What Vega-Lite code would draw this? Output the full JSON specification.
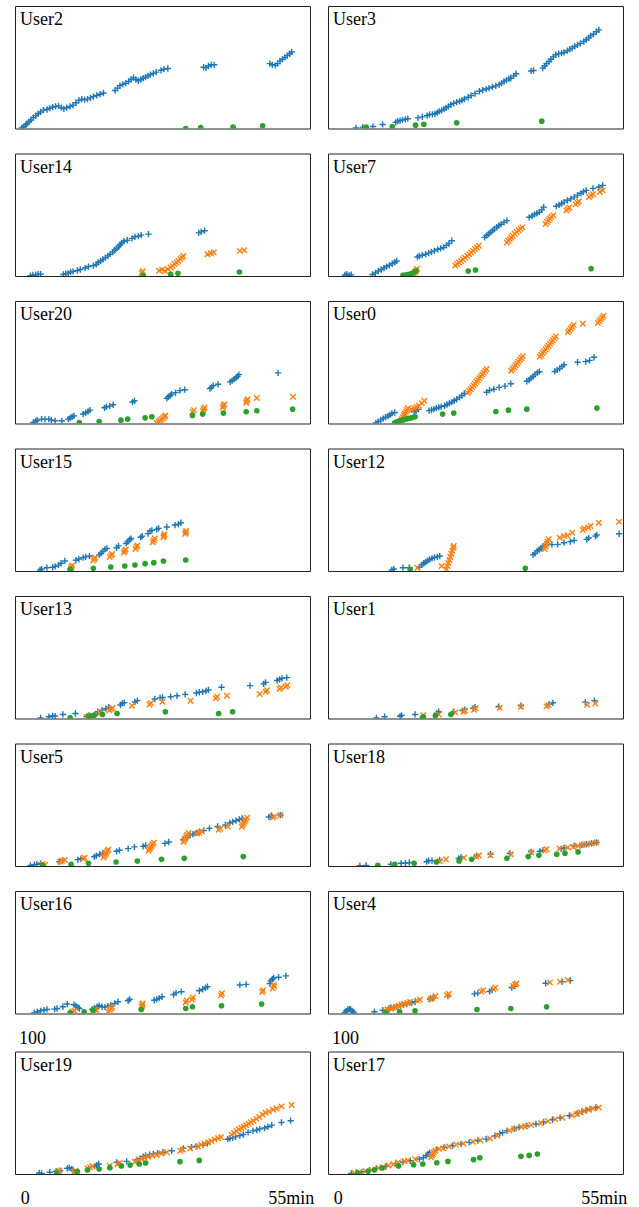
{
"$schema": "https://vega.github.io/schema/vega-lite/v6.json",
"padding": {"left": 14, "top": 5, "right": 0, "bottom": 0},
"config": {"font": "Liberation Serif", "view": {"stroke": "#222", "strokeWidth": 1}},
"data": {"name": "pts"},
"datasets": {"pts": [
{"p":"User2","s":"b","x":-0.6,"y":0.5},{"p":"User2","s":"b","x":-0.2,"y":1.5},{"p":"User2","s":"b","x":0.2,"y":3},{"p":"User2","s":"b","x":0.5,"y":4},{"p":"User2","s":"b","x":0.9,"y":5.5},{"p":"User2","s":"b","x":1.3,"y":7},{"p":"User2","s":"b","x":1.8,"y":9},{"p":"User2","s":"b","x":2.3,"y":10.5},{"p":"User2","s":"b","x":2.8,"y":12},{"p":"User2","s":"b","x":3.3,"y":13.5},{"p":"User2","s":"b","x":3.9,"y":15},{"p":"User2","s":"b","x":4.6,"y":15.5},{"p":"User2","s":"b","x":5.2,"y":16.5},{"p":"User2","s":"b","x":5.8,"y":17.5},{"p":"User2","s":"b","x":6.4,"y":18},{"p":"User2","s":"b","x":7.0,"y":18.5},{"p":"User2","s":"b","x":7.6,"y":17},{"p":"User2","s":"b","x":8.1,"y":16},{"p":"User2","s":"b","x":8.7,"y":17},{"p":"User2","s":"b","x":9.4,"y":18},{"p":"User2","s":"b","x":10.0,"y":19},{"p":"User2","s":"b","x":10.6,"y":21},{"p":"User2","s":"b","x":11.2,"y":23},{"p":"User2","s":"b","x":11.8,"y":24},{"p":"User2","s":"b","x":12.4,"y":23.5},{"p":"User2","s":"b","x":13.0,"y":24},{"p":"User2","s":"b","x":13.6,"y":25},{"p":"User2","s":"b","x":14.2,"y":26},{"p":"User2","s":"b","x":14.9,"y":27},{"p":"User2","s":"b","x":15.6,"y":28},{"p":"User2","s":"b","x":16.3,"y":29},{"p":"User2","s":"b","x":18.7,"y":31},{"p":"User2","s":"b","x":19.2,"y":33},{"p":"User2","s":"b","x":19.7,"y":35},{"p":"User2","s":"b","x":20.3,"y":36},{"p":"User2","s":"b","x":20.9,"y":37},{"p":"User2","s":"b","x":21.5,"y":38.5},{"p":"User2","s":"b","x":22.0,"y":40},{"p":"User2","s":"b","x":22.5,"y":41.5},{"p":"User2","s":"b","x":23.0,"y":40},{"p":"User2","s":"b","x":23.5,"y":39},{"p":"User2","s":"b","x":24.0,"y":40},{"p":"User2","s":"b","x":24.5,"y":41},{"p":"User2","s":"b","x":25.0,"y":42},{"p":"User2","s":"b","x":25.5,"y":43},{"p":"User2","s":"b","x":26.0,"y":44},{"p":"User2","s":"b","x":26.6,"y":45},{"p":"User2","s":"b","x":27.2,"y":46},{"p":"User2","s":"b","x":28.2,"y":47.5},{"p":"User2","s":"b","x":28.8,"y":48.5},{"p":"User2","s":"b","x":29.6,"y":49},{"p":"User2","s":"b","x":37.0,"y":50},{"p":"User2","s":"b","x":37.5,"y":49.5},{"p":"User2","s":"b","x":38.0,"y":51},{"p":"User2","s":"b","x":38.6,"y":52},{"p":"User2","s":"b","x":39.2,"y":52},{"p":"User2","s":"b","x":50.7,"y":53},{"p":"User2","s":"b","x":51.2,"y":52},{"p":"User2","s":"b","x":51.8,"y":51.5},{"p":"User2","s":"b","x":52.3,"y":53},{"p":"User2","s":"b","x":52.8,"y":55},{"p":"User2","s":"b","x":53.3,"y":56.5},{"p":"User2","s":"b","x":53.8,"y":58},{"p":"User2","s":"b","x":54.3,"y":59.5},{"p":"User2","s":"b","x":54.8,"y":61},{"p":"User2","s":"b","x":55.2,"y":62.5},
{"p":"User2","s":"g","x":33.3,"y":0},{"p":"User2","s":"g","x":36.4,"y":0.8},{"p":"User2","s":"g","x":43.1,"y":1.1},{"p":"User2","s":"g","x":49.2,"y":2.2},
{"p":"User3","s":"b","x":3.8,"y":0.5},{"p":"User3","s":"b","x":5.2,"y":1.1},{"p":"User3","s":"b","x":7.3,"y":1.6},{"p":"User3","s":"b","x":9.3,"y":3.3},{"p":"User3","s":"b","x":12.0,"y":5},{"p":"User3","s":"b","x":12.4,"y":6},{"p":"User3","s":"b","x":12.9,"y":6.5},{"p":"User3","s":"b","x":13.4,"y":7},{"p":"User3","s":"b","x":14.0,"y":7.5},{"p":"User3","s":"b","x":14.5,"y":8},{"p":"User3","s":"b","x":16.6,"y":8.7},{"p":"User3","s":"b","x":17.5,"y":9.5},{"p":"User3","s":"b","x":18.5,"y":10.5},{"p":"User3","s":"b","x":19.0,"y":11.4},{"p":"User3","s":"b","x":19.6,"y":11.5},{"p":"User3","s":"b","x":20.1,"y":12},{"p":"User3","s":"b","x":20.6,"y":13},{"p":"User3","s":"b","x":21.0,"y":14},{"p":"User3","s":"b","x":21.5,"y":14.8},{"p":"User3","s":"b","x":22.0,"y":15.8},{"p":"User3","s":"b","x":22.4,"y":16.8},{"p":"User3","s":"b","x":22.9,"y":18},{"p":"User3","s":"b","x":23.4,"y":19.5},{"p":"User3","s":"b","x":24.0,"y":20.5},{"p":"User3","s":"b","x":24.6,"y":21.5},{"p":"User3","s":"b","x":25.2,"y":22.2},{"p":"User3","s":"b","x":25.7,"y":23},{"p":"User3","s":"b","x":26.2,"y":24.1},{"p":"User3","s":"b","x":27.0,"y":25.5},{"p":"User3","s":"b","x":27.6,"y":26.8},{"p":"User3","s":"b","x":28.4,"y":28.5},{"p":"User3","s":"b","x":29.3,"y":30.4},{"p":"User3","s":"b","x":30.0,"y":31.3},{"p":"User3","s":"b","x":30.7,"y":32.2},{"p":"User3","s":"b","x":31.3,"y":33},{"p":"User3","s":"b","x":32.0,"y":33.9},{"p":"User3","s":"b","x":32.7,"y":34.8},{"p":"User3","s":"b","x":33.4,"y":35.8},{"p":"User3","s":"b","x":33.9,"y":37},{"p":"User3","s":"b","x":34.4,"y":38.5},{"p":"User3","s":"b","x":34.9,"y":39.5},{"p":"User3","s":"b","x":35.4,"y":40.5},{"p":"User3","s":"b","x":35.8,"y":41.2},{"p":"User3","s":"b","x":36.4,"y":43},{"p":"User3","s":"b","x":36.9,"y":44.7},{"p":"User3","s":"b","x":40.0,"y":47},{"p":"User3","s":"b","x":40.5,"y":47.4},{"p":"User3","s":"b","x":42.4,"y":49.3},{"p":"User3","s":"b","x":42.8,"y":51},{"p":"User3","s":"b","x":43.2,"y":53},{"p":"User3","s":"b","x":43.7,"y":54.7},{"p":"User3","s":"b","x":44.1,"y":56.5},{"p":"User3","s":"b","x":44.6,"y":58.5},{"p":"User3","s":"b","x":45.1,"y":60.2},{"p":"User3","s":"b","x":45.7,"y":61},{"p":"User3","s":"b","x":46.3,"y":61.5},{"p":"User3","s":"b","x":46.8,"y":62.1},{"p":"User3","s":"b","x":47.5,"y":63.5},{"p":"User3","s":"b","x":48.0,"y":64.8},{"p":"User3","s":"b","x":48.5,"y":65.6},{"p":"User3","s":"b","x":49.0,"y":67},{"p":"User3","s":"b","x":49.6,"y":68.3},{"p":"User3","s":"b","x":50.2,"y":69.5},{"p":"User3","s":"b","x":50.9,"y":71},{"p":"User3","s":"b","x":51.4,"y":72.5},{"p":"User3","s":"b","x":51.9,"y":74},{"p":"User3","s":"b","x":52.3,"y":75.6},{"p":"User3","s":"b","x":52.9,"y":77},{"p":"User3","s":"b","x":53.5,"y":79},{"p":"User3","s":"b","x":54.0,"y":80.5},
{"p":"User3","s":"g","x":5.9,"y":1.1},{"p":"User3","s":"g","x":11.3,"y":1.6},{"p":"User3","s":"g","x":16.1,"y":2.7},{"p":"User3","s":"g","x":17.8,"y":3.5},{"p":"User3","s":"g","x":24.6,"y":4.6},{"p":"User3","s":"g","x":42.2,"y":6},
{"p":"User14","s":"b","x":1.2,"y":0.3},{"p":"User14","s":"b","x":1.7,"y":0.8},{"p":"User14","s":"b","x":2.3,"y":1},{"p":"User14","s":"b","x":2.8,"y":1.4},{"p":"User14","s":"b","x":3.3,"y":1.4},{"p":"User14","s":"b","x":8.0,"y":1.2},{"p":"User14","s":"b","x":8.5,"y":1.9},{"p":"User14","s":"b","x":9.0,"y":2.2},{"p":"User14","s":"b","x":9.5,"y":3.3},{"p":"User14","s":"b","x":10.0,"y":3.8},{"p":"User14","s":"b","x":10.9,"y":4.5},{"p":"User14","s":"b","x":11.5,"y":5.3},{"p":"User14","s":"b","x":12.5,"y":6.5},{"p":"User14","s":"b","x":13.2,"y":7.7},{"p":"User14","s":"b","x":14.2,"y":8.5},{"p":"User14","s":"b","x":14.8,"y":9.5},{"p":"User14","s":"b","x":15.2,"y":11},{"p":"User14","s":"b","x":15.7,"y":12.3},{"p":"User14","s":"b","x":16.2,"y":13.6},{"p":"User14","s":"b","x":16.7,"y":15},{"p":"User14","s":"b","x":17.2,"y":16.4},{"p":"User14","s":"b","x":17.7,"y":17.8},{"p":"User14","s":"b","x":18.2,"y":19.5},{"p":"User14","s":"b","x":18.6,"y":21},{"p":"User14","s":"b","x":19.0,"y":22.5},{"p":"User14","s":"b","x":19.4,"y":24},{"p":"User14","s":"b","x":19.7,"y":25.5},{"p":"User14","s":"b","x":20.1,"y":27},{"p":"User14","s":"b","x":20.5,"y":28.4},{"p":"User14","s":"b","x":21.2,"y":29.2},{"p":"User14","s":"b","x":22.2,"y":30.7},{"p":"User14","s":"b","x":22.8,"y":32},{"p":"User14","s":"b","x":23.5,"y":32.5},{"p":"User14","s":"b","x":24.1,"y":33.4},{"p":"User14","s":"b","x":25.6,"y":34.2},{"p":"User14","s":"b","x":36.0,"y":35.2},{"p":"User14","s":"b","x":36.5,"y":36},{"p":"User14","s":"b","x":37.2,"y":37},
{"p":"User14","s":"o","x":24.2,"y":2.5},{"p":"User14","s":"o","x":24.4,"y":3.8},{"p":"User14","s":"o","x":27.8,"y":4.2},{"p":"User14","s":"o","x":28.4,"y":5.2},{"p":"User14","s":"o","x":29.0,"y":4.1},{"p":"User14","s":"o","x":29.6,"y":5.5},{"p":"User14","s":"o","x":30.2,"y":7},{"p":"User14","s":"o","x":30.6,"y":8.2},{"p":"User14","s":"o","x":31.0,"y":9.8},{"p":"User14","s":"o","x":31.4,"y":11},{"p":"User14","s":"o","x":31.8,"y":12.2},{"p":"User14","s":"o","x":32.2,"y":13.7},{"p":"User14","s":"o","x":32.5,"y":15},{"p":"User14","s":"o","x":32.8,"y":16.4},{"p":"User14","s":"o","x":37.8,"y":17.8},{"p":"User14","s":"o","x":38.5,"y":18.5},{"p":"User14","s":"o","x":39.1,"y":19.2},{"p":"User14","s":"o","x":44.5,"y":20.5},{"p":"User14","s":"o","x":45.4,"y":21.1},
{"p":"User14","s":"g","x":24.5,"y":0.5},{"p":"User14","s":"g","x":30.2,"y":1.4},{"p":"User14","s":"g","x":31.7,"y":2.2},{"p":"User14","s":"g","x":44.4,"y":3.3},
{"p":"User7","s":"b","x":1.5,"y":0.8},{"p":"User7","s":"b","x":1.9,"y":1.6},{"p":"User7","s":"b","x":2.4,"y":0.5},{"p":"User7","s":"b","x":2.8,"y":1.1},{"p":"User7","s":"b","x":7.2,"y":1.2},{"p":"User7","s":"b","x":7.8,"y":2.5},{"p":"User7","s":"b","x":8.4,"y":4.1},{"p":"User7","s":"b","x":9.0,"y":5.3},{"p":"User7","s":"b","x":9.6,"y":6.5},{"p":"User7","s":"b","x":10.1,"y":7.7},{"p":"User7","s":"b","x":10.7,"y":8.8},{"p":"User7","s":"b","x":11.3,"y":10},{"p":"User7","s":"b","x":11.8,"y":11.2},{"p":"User7","s":"b","x":12.2,"y":12.3},{"p":"User7","s":"b","x":16.5,"y":15.5},{"p":"User7","s":"b","x":16.9,"y":16.4},{"p":"User7","s":"b","x":17.5,"y":17},{"p":"User7","s":"b","x":18.2,"y":17.8},{"p":"User7","s":"b","x":18.8,"y":18.7},{"p":"User7","s":"b","x":19.4,"y":19.7},{"p":"User7","s":"b","x":20.0,"y":20.5},{"p":"User7","s":"b","x":20.7,"y":21.8},{"p":"User7","s":"b","x":21.3,"y":22.5},{"p":"User7","s":"b","x":21.9,"y":23.3},{"p":"User7","s":"b","x":22.5,"y":25},{"p":"User7","s":"b","x":23.0,"y":26.5},{"p":"User7","s":"b","x":23.6,"y":28.8},{"p":"User7","s":"b","x":30.4,"y":31.5},{"p":"User7","s":"b","x":30.8,"y":33},{"p":"User7","s":"b","x":31.2,"y":34.3},{"p":"User7","s":"b","x":31.6,"y":35.6},{"p":"User7","s":"b","x":32.0,"y":37},{"p":"User7","s":"b","x":32.4,"y":38.3},{"p":"User7","s":"b","x":32.9,"y":39.8},{"p":"User7","s":"b","x":33.3,"y":41.1},{"p":"User7","s":"b","x":33.8,"y":42.3},{"p":"User7","s":"b","x":34.4,"y":43.8},{"p":"User7","s":"b","x":35.0,"y":45.2},{"p":"User7","s":"b","x":39.6,"y":47.9},{"p":"User7","s":"b","x":40.2,"y":49},{"p":"User7","s":"b","x":40.7,"y":50.2},{"p":"User7","s":"b","x":41.2,"y":51.2},{"p":"User7","s":"b","x":41.7,"y":52.1},{"p":"User7","s":"b","x":42.2,"y":54},{"p":"User7","s":"b","x":42.6,"y":56.2},{"p":"User7","s":"b","x":45.2,"y":57},{"p":"User7","s":"b","x":45.8,"y":58},{"p":"User7","s":"b","x":46.3,"y":59.2},{"p":"User7","s":"b","x":46.8,"y":60.3},{"p":"User7","s":"b","x":47.5,"y":61.8},{"p":"User7","s":"b","x":48.2,"y":63},{"p":"User7","s":"b","x":48.9,"y":64.4},{"p":"User7","s":"b","x":49.6,"y":66},{"p":"User7","s":"b","x":50.3,"y":67.5},{"p":"User7","s":"b","x":50.8,"y":68.8},{"p":"User7","s":"b","x":51.4,"y":69.9},{"p":"User7","s":"b","x":52.8,"y":71.5},{"p":"User7","s":"b","x":54.0,"y":72.6},{"p":"User7","s":"b","x":54.8,"y":74},
{"p":"User7","s":"o","x":15.8,"y":1.5},{"p":"User7","s":"o","x":16.0,"y":3},{"p":"User7","s":"o","x":16.2,"y":4.5},{"p":"User7","s":"o","x":16.4,"y":6},{"p":"User7","s":"o","x":24.3,"y":8.5},{"p":"User7","s":"o","x":24.7,"y":9.8},{"p":"User7","s":"o","x":25.1,"y":11},{"p":"User7","s":"o","x":25.5,"y":12.3},{"p":"User7","s":"o","x":25.9,"y":13.6},{"p":"User7","s":"o","x":26.3,"y":15},{"p":"User7","s":"o","x":26.8,"y":16.4},{"p":"User7","s":"o","x":27.2,"y":17.8},{"p":"User7","s":"o","x":27.6,"y":19.2},{"p":"User7","s":"o","x":28.0,"y":20.5},{"p":"User7","s":"o","x":28.4,"y":22},{"p":"User7","s":"o","x":28.8,"y":23.3},{"p":"User7","s":"o","x":29.2,"y":24.7},{"p":"User7","s":"o","x":35.0,"y":27.4},{"p":"User7","s":"o","x":35.3,"y":28.8},{"p":"User7","s":"o","x":35.6,"y":30.1},{"p":"User7","s":"o","x":35.9,"y":31.5},{"p":"User7","s":"o","x":36.2,"y":32.9},{"p":"User7","s":"o","x":36.6,"y":34.5},{"p":"User7","s":"o","x":37.0,"y":36},{"p":"User7","s":"o","x":37.4,"y":37.3},{"p":"User7","s":"o","x":37.8,"y":38.5},{"p":"User7","s":"o","x":38.2,"y":39.7},{"p":"User7","s":"o","x":43.0,"y":42.5},{"p":"User7","s":"o","x":43.3,"y":44},{"p":"User7","s":"o","x":43.6,"y":45.5},{"p":"User7","s":"o","x":43.9,"y":47},{"p":"User7","s":"o","x":44.2,"y":48.3},{"p":"User7","s":"o","x":44.6,"y":49.5},{"p":"User7","s":"o","x":47.3,"y":53.5},{"p":"User7","s":"o","x":47.6,"y":54.8},{"p":"User7","s":"o","x":47.9,"y":56},{"p":"User7","s":"o","x":49.2,"y":58.5},{"p":"User7","s":"o","x":49.6,"y":59.8},{"p":"User7","s":"o","x":49.9,"y":61},{"p":"User7","s":"o","x":52.0,"y":64.5},{"p":"User7","s":"o","x":52.4,"y":65.8},{"p":"User7","s":"o","x":52.8,"y":66.8},{"p":"User7","s":"o","x":54.2,"y":68.5},{"p":"User7","s":"o","x":54.8,"y":69.9},
{"p":"User7","s":"g","x":13.5,"y":0.5},{"p":"User7","s":"g","x":14.0,"y":0.8},{"p":"User7","s":"g","x":14.5,"y":1.2},{"p":"User7","s":"g","x":15.0,"y":1.6},{"p":"User7","s":"g","x":15.4,"y":2.2},{"p":"User7","s":"g","x":15.8,"y":3},{"p":"User7","s":"g","x":16.2,"y":4.1},{"p":"User7","s":"g","x":27.0,"y":4.1},{"p":"User7","s":"g","x":28.5,"y":4.9},{"p":"User7","s":"g","x":52.4,"y":6.0},
{"p":"User20","s":"b","x":1.8,"y":0.8},{"p":"User20","s":"b","x":2.3,"y":2},{"p":"User20","s":"b","x":2.6,"y":2.7},{"p":"User20","s":"b","x":3.5,"y":3.6},{"p":"User20","s":"b","x":4.2,"y":3.4},{"p":"User20","s":"b","x":5.0,"y":3.6},{"p":"User20","s":"b","x":5.5,"y":3},{"p":"User20","s":"b","x":6.3,"y":2.2},{"p":"User20","s":"b","x":7.7,"y":2.2},{"p":"User20","s":"b","x":9.0,"y":3.6},{"p":"User20","s":"b","x":9.4,"y":4.5},{"p":"User20","s":"b","x":9.8,"y":5.5},{"p":"User20","s":"b","x":10.2,"y":6.2},{"p":"User20","s":"b","x":12.1,"y":7.7},{"p":"User20","s":"b","x":12.6,"y":8.8},{"p":"User20","s":"b","x":13.1,"y":9.8},{"p":"User20","s":"b","x":13.5,"y":10.9},{"p":"User20","s":"b","x":16.5,"y":12.8},{"p":"User20","s":"b","x":16.9,"y":13.7},{"p":"User20","s":"b","x":17.6,"y":14.2},{"p":"User20","s":"b","x":18.3,"y":15.3},{"p":"User20","s":"b","x":22.3,"y":17.5},{"p":"User20","s":"b","x":22.7,"y":18.6},{"p":"User20","s":"b","x":29.4,"y":20.5},{"p":"User20","s":"b","x":29.7,"y":21.8},{"p":"User20","s":"b","x":30.1,"y":23},{"p":"User20","s":"b","x":30.4,"y":24},{"p":"User20","s":"b","x":31.2,"y":25.2},{"p":"User20","s":"b","x":32.1,"y":26.8},{"p":"User20","s":"b","x":33.1,"y":27.6},{"p":"User20","s":"b","x":38.3,"y":28.5},{"p":"User20","s":"b","x":38.6,"y":29.5},{"p":"User20","s":"b","x":39.0,"y":30.9},{"p":"User20","s":"b","x":40.0,"y":32},{"p":"User20","s":"b","x":42.5,"y":34},{"p":"User20","s":"b","x":42.9,"y":35},{"p":"User20","s":"b","x":43.3,"y":36.2},{"p":"User20","s":"b","x":43.7,"y":37.2},{"p":"User20","s":"b","x":44.0,"y":38.5},{"p":"User20","s":"b","x":44.3,"y":39.9},{"p":"User20","s":"b","x":52.4,"y":41.3},
{"p":"User20","s":"o","x":27.3,"y":0.5},{"p":"User20","s":"o","x":27.7,"y":1.5},{"p":"User20","s":"o","x":28.0,"y":2.5},{"p":"User20","s":"o","x":28.3,"y":3.5},{"p":"User20","s":"o","x":28.6,"y":4.5},{"p":"User20","s":"o","x":28.9,"y":5.5},{"p":"User20","s":"o","x":29.1,"y":6.5},{"p":"User20","s":"o","x":34.7,"y":9.5},{"p":"User20","s":"o","x":35.0,"y":10.8},{"p":"User20","s":"o","x":36.9,"y":10},{"p":"User20","s":"o","x":37.0,"y":11.7},{"p":"User20","s":"o","x":37.2,"y":13},{"p":"User20","s":"o","x":41.0,"y":13},{"p":"User20","s":"o","x":41.1,"y":14.5},{"p":"User20","s":"o","x":41.3,"y":15.8},{"p":"User20","s":"o","x":45.8,"y":17},{"p":"User20","s":"o","x":45.9,"y":18.6},{"p":"User20","s":"o","x":46.1,"y":19.8},{"p":"User20","s":"o","x":48.0,"y":20.8},{"p":"User20","s":"o","x":55.5,"y":21.9},
{"p":"User20","s":"g","x":11.3,"y":0.8},{"p":"User20","s":"g","x":15.4,"y":1.6},{"p":"User20","s":"g","x":19.9,"y":2.7},{"p":"User20","s":"g","x":21.3,"y":3.6},{"p":"User20","s":"g","x":24.9,"y":4.6},{"p":"User20","s":"g","x":26.3,"y":5.5},{"p":"User20","s":"g","x":34.7,"y":6.6},{"p":"User20","s":"g","x":36.8,"y":7.7},{"p":"User20","s":"g","x":41.1,"y":8.5},{"p":"User20","s":"g","x":45.8,"y":9.6},{"p":"User20","s":"g","x":48.0,"y":10.4},{"p":"User20","s":"g","x":55.4,"y":11.7},
{"p":"User0","s":"b","x":7.9,"y":0.5},{"p":"User0","s":"b","x":8.4,"y":1.5},{"p":"User0","s":"b","x":8.9,"y":3},{"p":"User0","s":"b","x":9.4,"y":4},{"p":"User0","s":"b","x":9.9,"y":5.2},{"p":"User0","s":"b","x":10.4,"y":6},{"p":"User0","s":"b","x":10.8,"y":7},{"p":"User0","s":"b","x":11.2,"y":8.2},{"p":"User0","s":"b","x":11.8,"y":9},{"p":"User0","s":"b","x":15.8,"y":9.6},{"p":"User0","s":"b","x":16.2,"y":10.4},{"p":"User0","s":"b","x":16.7,"y":11.5},{"p":"User0","s":"b","x":18.9,"y":10.5},{"p":"User0","s":"b","x":19.4,"y":11},{"p":"User0","s":"b","x":19.9,"y":11.7},{"p":"User0","s":"b","x":20.4,"y":12.5},{"p":"User0","s":"b","x":20.9,"y":13.1},{"p":"User0","s":"b","x":21.4,"y":13.8},{"p":"User0","s":"b","x":22.1,"y":14.5},{"p":"User0","s":"b","x":22.6,"y":15.5},{"p":"User0","s":"b","x":23.1,"y":16.4},{"p":"User0","s":"b","x":23.6,"y":17.5},{"p":"User0","s":"b","x":24.1,"y":18.6},{"p":"User0","s":"b","x":24.6,"y":19.8},{"p":"User0","s":"b","x":25.2,"y":21.3},{"p":"User0","s":"b","x":25.7,"y":22.8},{"p":"User0","s":"b","x":26.2,"y":24.5},{"p":"User0","s":"b","x":30.8,"y":25.5},{"p":"User0","s":"b","x":31.4,"y":27},{"p":"User0","s":"b","x":32.3,"y":28},{"p":"User0","s":"b","x":33.4,"y":29.5},{"p":"User0","s":"b","x":34.6,"y":30.5},{"p":"User0","s":"b","x":35.8,"y":32.5},{"p":"User0","s":"b","x":39.1,"y":34.5},{"p":"User0","s":"b","x":39.6,"y":35.5},{"p":"User0","s":"b","x":40.0,"y":37},{"p":"User0","s":"b","x":40.4,"y":38.5},{"p":"User0","s":"b","x":40.8,"y":40},{"p":"User0","s":"b","x":41.3,"y":41.5},{"p":"User0","s":"b","x":41.7,"y":42.3},{"p":"User0","s":"b","x":44.9,"y":42.5},{"p":"User0","s":"b","x":45.4,"y":43.8},{"p":"User0","s":"b","x":45.9,"y":45},{"p":"User0","s":"b","x":46.4,"y":46.5},{"p":"User0","s":"b","x":46.8,"y":48},{"p":"User0","s":"b","x":49.6,"y":50},{"p":"User0","s":"b","x":51.3,"y":50.5},{"p":"User0","s":"b","x":52.1,"y":51.5},{"p":"User0","s":"b","x":53.0,"y":54.1},
{"p":"User0","s":"o","x":12.9,"y":0.5},{"p":"User0","s":"o","x":13.1,"y":2},{"p":"User0","s":"o","x":13.3,"y":3.5},{"p":"User0","s":"o","x":13.5,"y":5},{"p":"User0","s":"o","x":13.7,"y":6.5},{"p":"User0","s":"o","x":13.9,"y":8},{"p":"User0","s":"o","x":14.1,"y":9.5},{"p":"User0","s":"o","x":14.3,"y":11},{"p":"User0","s":"o","x":14.5,"y":12.5},{"p":"User0","s":"o","x":15.3,"y":11.5},{"p":"User0","s":"o","x":15.8,"y":12.5},{"p":"User0","s":"o","x":16.3,"y":13.5},{"p":"User0","s":"o","x":16.8,"y":14.5},{"p":"User0","s":"o","x":17.4,"y":16.5},{"p":"User0","s":"o","x":17.9,"y":18.5},{"p":"User0","s":"o","x":26.9,"y":25},{"p":"User0","s":"o","x":27.2,"y":26.5},{"p":"User0","s":"o","x":27.5,"y":28},{"p":"User0","s":"o","x":27.8,"y":29.5},{"p":"User0","s":"o","x":28.1,"y":31},{"p":"User0","s":"o","x":28.4,"y":32.5},{"p":"User0","s":"o","x":28.7,"y":34},{"p":"User0","s":"o","x":29.0,"y":35.5},{"p":"User0","s":"o","x":29.3,"y":37},{"p":"User0","s":"o","x":29.6,"y":38.5},{"p":"User0","s":"o","x":29.9,"y":40},{"p":"User0","s":"o","x":30.2,"y":41.5},{"p":"User0","s":"o","x":30.5,"y":43},{"p":"User0","s":"o","x":30.8,"y":44.5},{"p":"User0","s":"o","x":35.9,"y":43},{"p":"User0","s":"o","x":36.2,"y":44.5},{"p":"User0","s":"o","x":36.5,"y":46},{"p":"User0","s":"o","x":36.8,"y":47.5},{"p":"User0","s":"o","x":37.1,"y":49},{"p":"User0","s":"o","x":37.4,"y":50.5},{"p":"User0","s":"o","x":37.7,"y":52},{"p":"User0","s":"o","x":38.0,"y":53.5},{"p":"User0","s":"o","x":38.3,"y":55},{"p":"User0","s":"o","x":41.8,"y":54.5},{"p":"User0","s":"o","x":42.1,"y":56},{"p":"User0","s":"o","x":42.4,"y":57.5},{"p":"User0","s":"o","x":42.7,"y":59},{"p":"User0","s":"o","x":43.0,"y":60.5},{"p":"User0","s":"o","x":43.3,"y":62},{"p":"User0","s":"o","x":43.6,"y":63.5},{"p":"User0","s":"o","x":43.9,"y":65},{"p":"User0","s":"o","x":44.2,"y":66.5},{"p":"User0","s":"o","x":44.5,"y":68},{"p":"User0","s":"o","x":44.8,"y":69.5},{"p":"User0","s":"o","x":45.1,"y":71},{"p":"User0","s":"o","x":47.6,"y":74.5},{"p":"User0","s":"o","x":47.9,"y":76},{"p":"User0","s":"o","x":48.2,"y":77.5},{"p":"User0","s":"o","x":48.5,"y":79},{"p":"User0","s":"o","x":48.8,"y":80.5},{"p":"User0","s":"o","x":50.7,"y":81.5},{"p":"User0","s":"o","x":53.8,"y":82},{"p":"User0","s":"o","x":54.1,"y":83.5},{"p":"User0","s":"o","x":54.4,"y":85},{"p":"User0","s":"o","x":54.7,"y":86.5},{"p":"User0","s":"o","x":55.0,"y":88},
{"p":"User0","s":"g","x":11.8,"y":0.5},{"p":"User0","s":"g","x":12.2,"y":1.2},{"p":"User0","s":"g","x":12.6,"y":1.8},{"p":"User0","s":"g","x":13.0,"y":2.3},{"p":"User0","s":"g","x":13.4,"y":2.8},{"p":"User0","s":"g","x":13.8,"y":3.3},{"p":"User0","s":"g","x":14.3,"y":3.8},{"p":"User0","s":"g","x":14.8,"y":4.3},{"p":"User0","s":"g","x":15.4,"y":4.8},{"p":"User0","s":"g","x":16.0,"y":5.5},{"p":"User0","s":"g","x":21.7,"y":7.7},{"p":"User0","s":"g","x":24.0,"y":8.5},{"p":"User0","s":"g","x":32.7,"y":9.8},{"p":"User0","s":"g","x":35.3,"y":10.9},{"p":"User0","s":"g","x":39.1,"y":11.7},{"p":"User0","s":"g","x":53.6,"y":12.6},
{"p":"User15","s":"b","x":3.2,"y":0.8},{"p":"User15","s":"b","x":3.5,"y":1.6},{"p":"User15","s":"b","x":4.6,"y":2.7},{"p":"User15","s":"b","x":5.8,"y":3},{"p":"User15","s":"b","x":6.3,"y":3.8},{"p":"User15","s":"b","x":7.0,"y":4.8},{"p":"User15","s":"b","x":7.5,"y":6.3},{"p":"User15","s":"b","x":8.3,"y":8.2},{"p":"User15","s":"b","x":10.6,"y":8.8},{"p":"User15","s":"b","x":11.2,"y":9.8},{"p":"User15","s":"b","x":12.1,"y":10.9},{"p":"User15","s":"b","x":12.6,"y":11.5},{"p":"User15","s":"b","x":13.4,"y":12.2},{"p":"User15","s":"b","x":15.4,"y":13.2},{"p":"User15","s":"b","x":15.8,"y":14.5},{"p":"User15","s":"b","x":16.2,"y":16},{"p":"User15","s":"b","x":16.6,"y":17.7},{"p":"User15","s":"b","x":17.0,"y":18.5},{"p":"User15","s":"b","x":19.0,"y":19},{"p":"User15","s":"b","x":19.4,"y":20.5},{"p":"User15","s":"b","x":21.0,"y":22.5},{"p":"User15","s":"b","x":21.3,"y":24},{"p":"User15","s":"b","x":21.7,"y":25.5},{"p":"User15","s":"b","x":22.0,"y":26.5},{"p":"User15","s":"b","x":24.0,"y":27.5},{"p":"User15","s":"b","x":24.3,"y":28.5},{"p":"User15","s":"b","x":25.5,"y":30.5},{"p":"User15","s":"b","x":25.9,"y":32.6},{"p":"User15","s":"b","x":26.3,"y":33.2},{"p":"User15","s":"b","x":27.3,"y":34},{"p":"User15","s":"b","x":27.7,"y":34.8},{"p":"User15","s":"b","x":29.4,"y":35.9},{"p":"User15","s":"b","x":31.1,"y":37.5},{"p":"User15","s":"b","x":31.8,"y":38.3},{"p":"User15","s":"b","x":32.3,"y":39.4},
{"p":"User15","s":"o","x":9.5,"y":0.5},{"p":"User15","s":"o","x":9.6,"y":1.8},{"p":"User15","s":"o","x":9.7,"y":3.2},{"p":"User15","s":"o","x":9.8,"y":4.6},{"p":"User15","s":"o","x":14.2,"y":8.5},{"p":"User15","s":"o","x":14.4,"y":9.8},{"p":"User15","s":"o","x":14.6,"y":11},{"p":"User15","s":"o","x":17.6,"y":11.5},{"p":"User15","s":"o","x":17.9,"y":12.8},{"p":"User15","s":"o","x":18.1,"y":13.8},{"p":"User15","s":"o","x":20.5,"y":15},{"p":"User15","s":"o","x":20.7,"y":16.3},{"p":"User15","s":"o","x":20.9,"y":17.5},{"p":"User15","s":"o","x":22.9,"y":18},{"p":"User15","s":"o","x":23.1,"y":19.5},{"p":"User15","s":"o","x":23.3,"y":20.8},{"p":"User15","s":"o","x":26.5,"y":23.5},{"p":"User15","s":"o","x":26.7,"y":25},{"p":"User15","s":"o","x":26.9,"y":26.5},{"p":"User15","s":"o","x":28.7,"y":27.5},{"p":"User15","s":"o","x":28.8,"y":28.8},{"p":"User15","s":"o","x":28.9,"y":30},{"p":"User15","s":"o","x":33.2,"y":30.3},{"p":"User15","s":"o","x":33.3,"y":31.5},{"p":"User15","s":"o","x":33.4,"y":32.7},
{"p":"User15","s":"g","x":9.4,"y":1.4},{"p":"User15","s":"g","x":14.2,"y":2.2},{"p":"User15","s":"g","x":17.8,"y":3.3},{"p":"User15","s":"g","x":20.7,"y":4.1},{"p":"User15","s":"g","x":22.8,"y":4.9},{"p":"User15","s":"g","x":24.9,"y":6},{"p":"User15","s":"g","x":26.7,"y":6.8},{"p":"User15","s":"g","x":28.7,"y":8.2},{"p":"User15","s":"g","x":33.3,"y":9.0},
{"p":"User12","s":"b","x":11.2,"y":0.8},{"p":"User12","s":"b","x":11.6,"y":1.6},{"p":"User12","s":"b","x":13.5,"y":2.7},{"p":"User12","s":"b","x":14.8,"y":2.7},{"p":"User12","s":"b","x":16.9,"y":3.3},{"p":"User12","s":"b","x":17.4,"y":5},{"p":"User12","s":"b","x":17.8,"y":6.3},{"p":"User12","s":"b","x":18.2,"y":7.3},{"p":"User12","s":"b","x":18.6,"y":8.4},{"p":"User12","s":"b","x":19.0,"y":9.5},{"p":"User12","s":"b","x":19.5,"y":10.3},{"p":"User12","s":"b","x":20.0,"y":11},{"p":"User12","s":"b","x":20.6,"y":11.6},{"p":"User12","s":"b","x":21.1,"y":12.2},{"p":"User12","s":"b","x":40.4,"y":13.2},{"p":"User12","s":"b","x":40.8,"y":14.5},{"p":"User12","s":"b","x":41.3,"y":16.3},{"p":"User12","s":"b","x":41.7,"y":17.5},{"p":"User12","s":"b","x":42.1,"y":18.8},{"p":"User12","s":"b","x":42.5,"y":20.2},{"p":"User12","s":"b","x":43.0,"y":21.7},{"p":"User12","s":"b","x":44.3,"y":21.5},{"p":"User12","s":"b","x":45.5,"y":21.7},{"p":"User12","s":"b","x":46.8,"y":23.1},{"p":"User12","s":"b","x":48.1,"y":24},{"p":"User12","s":"b","x":48.9,"y":25},{"p":"User12","s":"b","x":51.5,"y":25.8},{"p":"User12","s":"b","x":51.9,"y":27},{"p":"User12","s":"b","x":53.3,"y":28.5},{"p":"User12","s":"b","x":53.6,"y":29.5},{"p":"User12","s":"b","x":58.2,"y":30.4},
{"p":"User12","s":"o","x":16.5,"y":2.7},{"p":"User12","s":"o","x":21.5,"y":4.1},{"p":"User12","s":"o","x":22.5,"y":1.5},{"p":"User12","s":"o","x":22.7,"y":4},{"p":"User12","s":"o","x":22.9,"y":6.5},{"p":"User12","s":"o","x":23.1,"y":9},{"p":"User12","s":"o","x":23.3,"y":11.5},{"p":"User12","s":"o","x":23.5,"y":14},{"p":"User12","s":"o","x":23.7,"y":16.5},{"p":"User12","s":"o","x":23.9,"y":19},{"p":"User12","s":"o","x":24.0,"y":20.5},{"p":"User12","s":"o","x":42.8,"y":18},{"p":"User12","s":"o","x":43.0,"y":20},{"p":"User12","s":"o","x":43.2,"y":22},{"p":"User12","s":"o","x":43.4,"y":24},{"p":"User12","s":"o","x":43.6,"y":26},{"p":"User12","s":"o","x":45.9,"y":27.2},{"p":"User12","s":"o","x":46.8,"y":28.5},{"p":"User12","s":"o","x":47.5,"y":29},{"p":"User12","s":"o","x":48.5,"y":31.3},{"p":"User12","s":"o","x":50.7,"y":33.5},{"p":"User12","s":"o","x":51.0,"y":34.8},{"p":"User12","s":"o","x":51.8,"y":35.5},{"p":"User12","s":"o","x":52.3,"y":36.7},{"p":"User12","s":"o","x":54.0,"y":39.4},{"p":"User12","s":"o","x":58.2,"y":40.2},
{"p":"User12","s":"g","x":15.0,"y":1.4},{"p":"User12","s":"g","x":38.8,"y":2.2},
{"p":"User13","s":"b","x":3.3,"y":0.5},{"p":"User13","s":"b","x":5.0,"y":1.4},{"p":"User13","s":"b","x":5.8,"y":2.2},{"p":"User13","s":"b","x":6.3,"y":2},{"p":"User13","s":"b","x":7.9,"y":3.3},{"p":"User13","s":"b","x":10.5,"y":4.1},{"p":"User13","s":"b","x":12.8,"y":1.5},{"p":"User13","s":"b","x":13.3,"y":2.5},{"p":"User13","s":"b","x":15.1,"y":5.5},{"p":"User13","s":"b","x":16.0,"y":6.8},{"p":"User13","s":"b","x":16.8,"y":8},{"p":"User13","s":"b","x":17.4,"y":9.2},{"p":"User13","s":"b","x":19.8,"y":11},{"p":"User13","s":"b","x":20.2,"y":12.3},{"p":"User13","s":"b","x":20.6,"y":13},{"p":"User13","s":"b","x":22.8,"y":13.5},{"p":"User13","s":"b","x":23.3,"y":14.6},{"p":"User13","s":"b","x":26.9,"y":15.9},{"p":"User13","s":"b","x":28.0,"y":16.8},{"p":"User13","s":"b","x":28.5,"y":17.2},{"p":"User13","s":"b","x":30.2,"y":17.8},{"p":"User13","s":"b","x":31.5,"y":18.6},{"p":"User13","s":"b","x":33.2,"y":19.7},{"p":"User13","s":"b","x":35.5,"y":20.8},{"p":"User13","s":"b","x":36.1,"y":21.4},{"p":"User13","s":"b","x":36.8,"y":21.8},{"p":"User13","s":"b","x":37.5,"y":22.5},{"p":"User13","s":"b","x":38.0,"y":23.3},{"p":"User13","s":"b","x":40.7,"y":25.5},{"p":"User13","s":"b","x":46.6,"y":26.8},{"p":"User13","s":"b","x":49.4,"y":28.3},{"p":"User13","s":"b","x":49.8,"y":29.5},{"p":"User13","s":"b","x":52.2,"y":31},{"p":"User13","s":"b","x":52.7,"y":32},{"p":"User13","s":"b","x":53.2,"y":32.8},{"p":"User13","s":"b","x":54.2,"y":33.4},
{"p":"User13","s":"o","x":12.8,"y":1.2},{"p":"User13","s":"o","x":13.4,"y":2},{"p":"User13","s":"o","x":13.8,"y":2.7},{"p":"User13","s":"o","x":15.5,"y":4.2},{"p":"User13","s":"o","x":15.9,"y":5.2},{"p":"User13","s":"o","x":17.5,"y":6.8},{"p":"User13","s":"o","x":17.9,"y":7.7},{"p":"User13","s":"o","x":18.2,"y":8.5},{"p":"User13","s":"o","x":22.2,"y":10.4},{"p":"User13","s":"o","x":25.8,"y":11.5},{"p":"User13","s":"o","x":26.1,"y":12.6},{"p":"User13","s":"o","x":28.5,"y":13.7},{"p":"User13","s":"o","x":34.3,"y":14.5},{"p":"User13","s":"o","x":39.5,"y":16.5},{"p":"User13","s":"o","x":39.8,"y":17.8},{"p":"User13","s":"o","x":41.8,"y":18.6},{"p":"User13","s":"o","x":48.6,"y":20},{"p":"User13","s":"o","x":49.8,"y":21.8},{"p":"User13","s":"o","x":50.1,"y":23},{"p":"User13","s":"o","x":52.7,"y":24},{"p":"User13","s":"o","x":53.0,"y":25.2},{"p":"User13","s":"o","x":54.0,"y":26},{"p":"User13","s":"o","x":54.3,"y":27.2},
{"p":"User13","s":"g","x":9.4,"y":0.5},{"p":"User13","s":"g","x":13.2,"y":1.4},{"p":"User13","s":"g","x":13.8,"y":2.2},{"p":"User13","s":"g","x":14.4,"y":2.7},{"p":"User13","s":"g","x":16.1,"y":3.3},{"p":"User13","s":"g","x":19.1,"y":4.1},{"p":"User13","s":"g","x":29.1,"y":5.5},{"p":"User13","s":"g","x":40.1,"y":4.1},{"p":"User13","s":"g","x":43.0,"y":5.5},
{"p":"User1","s":"b","x":8.0,"y":0.5},{"p":"User1","s":"b","x":9.7,"y":1.4},{"p":"User1","s":"b","x":12.9,"y":1.8},{"p":"User1","s":"b","x":13.2,"y":2.6},{"p":"User1","s":"b","x":16.0,"y":3.3},{"p":"User1","s":"b","x":20.5,"y":4.3},{"p":"User1","s":"b","x":20.9,"y":5.5},{"p":"User1","s":"b","x":24.0,"y":5.5},{"p":"User1","s":"b","x":25.8,"y":6.5},{"p":"User1","s":"b","x":26.3,"y":7.3},{"p":"User1","s":"b","x":28.0,"y":8.3},{"p":"User1","s":"b","x":28.4,"y":9.3},{"p":"User1","s":"b","x":33.3,"y":9.6},{"p":"User1","s":"b","x":37.9,"y":10.4},{"p":"User1","s":"b","x":43.7,"y":11.8},{"p":"User1","s":"b","x":44.5,"y":12.8},{"p":"User1","s":"b","x":51.2,"y":13.4},{"p":"User1","s":"b","x":53.1,"y":14.5},
{"p":"User1","s":"o","x":17.7,"y":2.7},{"p":"User1","s":"o","x":20.9,"y":3.3},{"p":"User1","s":"o","x":24.3,"y":4.9},{"p":"User1","s":"o","x":26.0,"y":5.5},{"p":"User1","s":"o","x":26.3,"y":6.6},{"p":"User1","s":"o","x":28.2,"y":7.2},{"p":"User1","s":"o","x":28.5,"y":8.4},{"p":"User1","s":"o","x":33.5,"y":8.8},{"p":"User1","s":"o","x":37.9,"y":9.6},{"p":"User1","s":"o","x":43.2,"y":9.9},{"p":"User1","s":"o","x":43.6,"y":11},{"p":"User1","s":"o","x":51.6,"y":11.2},{"p":"User1","s":"o","x":53.3,"y":12.3},
{"p":"User1","s":"g","x":17.5,"y":0.5},{"p":"User1","s":"g","x":17.7,"y":1.4},{"p":"User1","s":"g","x":20.2,"y":2.2},{"p":"User1","s":"g","x":23.4,"y":3.3},
{"p":"User5","s":"b","x":1.2,"y":0.5},{"p":"User5","s":"b","x":2.0,"y":1},{"p":"User5","s":"b","x":2.5,"y":1.4},{"p":"User5","s":"b","x":3.3,"y":2.2},{"p":"User5","s":"b","x":7.2,"y":3.5},{"p":"User5","s":"b","x":7.8,"y":4.5},{"p":"User5","s":"b","x":11.0,"y":5.2},{"p":"User5","s":"b","x":11.6,"y":6},{"p":"User5","s":"b","x":14.4,"y":7.5},{"p":"User5","s":"b","x":14.8,"y":8.5},{"p":"User5","s":"b","x":15.5,"y":9.5},{"p":"User5","s":"b","x":16.2,"y":10.6},{"p":"User5","s":"b","x":19.0,"y":12},{"p":"User5","s":"b","x":19.6,"y":12.8},{"p":"User5","s":"b","x":21.4,"y":14.2},{"p":"User5","s":"b","x":22.7,"y":15.6},{"p":"User5","s":"b","x":24.5,"y":16},{"p":"User5","s":"b","x":25.0,"y":16.8},{"p":"User5","s":"b","x":29.0,"y":18.5},{"p":"User5","s":"b","x":29.8,"y":19.6},{"p":"User5","s":"b","x":32.8,"y":21.4},{"p":"User5","s":"b","x":33.6,"y":23.5},{"p":"User5","s":"b","x":34.2,"y":25},{"p":"User5","s":"b","x":34.8,"y":26},{"p":"User5","s":"b","x":35.5,"y":27},{"p":"User5","s":"b","x":36.1,"y":27.9},{"p":"User5","s":"b","x":37.0,"y":29},{"p":"User5","s":"b","x":38.2,"y":30.7},{"p":"User5","s":"b","x":39.9,"y":32.3},{"p":"User5","s":"b","x":41.5,"y":33.5},{"p":"User5","s":"b","x":42.4,"y":35.1},{"p":"User5","s":"b","x":43.0,"y":36},{"p":"User5","s":"b","x":43.7,"y":37},{"p":"User5","s":"b","x":44.4,"y":38},{"p":"User5","s":"b","x":45.0,"y":38.9},{"p":"User5","s":"b","x":50.5,"y":40},{"p":"User5","s":"b","x":51.0,"y":41},{"p":"User5","s":"b","x":52.9,"y":41.6},
{"p":"User5","s":"o","x":3.7,"y":1.4},{"p":"User5","s":"o","x":4.2,"y":0.8},{"p":"User5","s":"o","x":7.3,"y":3.5},{"p":"User5","s":"o","x":7.7,"y":4.3},{"p":"User5","s":"o","x":8.3,"y":4.9},{"p":"User5","s":"o","x":12.1,"y":6},{"p":"User5","s":"o","x":12.4,"y":6.8},{"p":"User5","s":"o","x":16.3,"y":7},{"p":"User5","s":"o","x":16.5,"y":8.3},{"p":"User5","s":"o","x":16.7,"y":9.6},{"p":"User5","s":"o","x":16.9,"y":10.9},{"p":"User5","s":"o","x":17.1,"y":12.2},{"p":"User5","s":"o","x":17.3,"y":13.5},{"p":"User5","s":"o","x":25.6,"y":12.5},{"p":"User5","s":"o","x":25.8,"y":13.8},{"p":"User5","s":"o","x":26.0,"y":15.1},{"p":"User5","s":"o","x":26.2,"y":16.4},{"p":"User5","s":"o","x":26.4,"y":17.7},{"p":"User5","s":"o","x":26.7,"y":19},{"p":"User5","s":"o","x":32.8,"y":19.5},{"p":"User5","s":"o","x":33.0,"y":21},{"p":"User5","s":"o","x":33.2,"y":22.5},{"p":"User5","s":"o","x":33.4,"y":24},{"p":"User5","s":"o","x":33.6,"y":25.5},{"p":"User5","s":"o","x":33.9,"y":27},{"p":"User5","s":"o","x":35.6,"y":26.5},{"p":"User5","s":"o","x":36.1,"y":27.4},{"p":"User5","s":"o","x":36.6,"y":28.4},{"p":"User5","s":"o","x":40.1,"y":29.5},{"p":"User5","s":"o","x":40.5,"y":30.5},{"p":"User5","s":"o","x":42.0,"y":32.3},{"p":"User5","s":"o","x":44.9,"y":32},{"p":"User5","s":"o","x":45.1,"y":33.5},{"p":"User5","s":"o","x":45.3,"y":35},{"p":"User5","s":"o","x":45.5,"y":36.5},{"p":"User5","s":"o","x":45.7,"y":38},{"p":"User5","s":"o","x":46.0,"y":39.5},{"p":"User5","s":"o","x":51.3,"y":39.5},{"p":"User5","s":"o","x":51.7,"y":40.5},{"p":"User5","s":"o","x":52.9,"y":41.6},
{"p":"User5","s":"g","x":3.7,"y":0.5},{"p":"User5","s":"g","x":9.6,"y":1.4},{"p":"User5","s":"g","x":13.2,"y":2.2},{"p":"User5","s":"g","x":18.9,"y":3.3},{"p":"User5","s":"g","x":23.3,"y":4.1},{"p":"User5","s":"g","x":28.3,"y":5.5},{"p":"User5","s":"g","x":33.0,"y":6.3},{"p":"User5","s":"g","x":45.2,"y":7.7},
{"p":"User18","s":"b","x":4.6,"y":0.3},{"p":"User18","s":"b","x":5.9,"y":0.5},{"p":"User18","s":"b","x":11.0,"y":1.4},{"p":"User18","s":"b","x":13.1,"y":2.2},{"p":"User18","s":"b","x":14.0,"y":2.4},{"p":"User18","s":"b","x":14.8,"y":2.7},{"p":"User18","s":"b","x":18.4,"y":3.5},{"p":"User18","s":"b","x":18.8,"y":4.5},{"p":"User18","s":"b","x":19.5,"y":4.4},{"p":"User18","s":"b","x":21.1,"y":4.9},{"p":"User18","s":"b","x":25.0,"y":6.2},{"p":"User18","s":"b","x":25.5,"y":7.3},{"p":"User18","s":"b","x":28.7,"y":8.2},{"p":"User18","s":"b","x":31.6,"y":9.6},{"p":"User18","s":"b","x":35.6,"y":10.2},{"p":"User18","s":"b","x":40.0,"y":11.5},{"p":"User18","s":"b","x":41.8,"y":12},{"p":"User18","s":"b","x":42.4,"y":13},{"p":"User18","s":"b","x":46.2,"y":14},{"p":"User18","s":"b","x":46.8,"y":14.8},{"p":"User18","s":"b","x":48.9,"y":16.4},{"p":"User18","s":"b","x":50.5,"y":17.2},{"p":"User18","s":"b","x":51.4,"y":17.8},{"p":"User18","s":"b","x":52.5,"y":18.5},{"p":"User18","s":"b","x":53.5,"y":19.2},
{"p":"User18","s":"o","x":21.1,"y":4.1},{"p":"User18","s":"o","x":22.4,"y":5.5},{"p":"User18","s":"o","x":26.1,"y":6.8},{"p":"User18","s":"o","x":28.7,"y":7.7},{"p":"User18","s":"o","x":29.2,"y":8.5},{"p":"User18","s":"o","x":31.6,"y":8.8},{"p":"User18","s":"o","x":35.8,"y":9.6},{"p":"User18","s":"o","x":40.0,"y":11},{"p":"User18","s":"o","x":42.8,"y":12.6},{"p":"User18","s":"o","x":43.2,"y":13.6},{"p":"User18","s":"o","x":45.9,"y":14.2},{"p":"User18","s":"o","x":47.6,"y":15.1},{"p":"User18","s":"o","x":48.7,"y":15.8},{"p":"User18","s":"o","x":49.7,"y":16.4},{"p":"User18","s":"o","x":50.5,"y":17},{"p":"User18","s":"o","x":51.4,"y":17.8},{"p":"User18","s":"o","x":52.5,"y":18.3},{"p":"User18","s":"o","x":53.5,"y":19.2},
{"p":"User18","s":"g","x":8.3,"y":0.5},{"p":"User18","s":"g","x":11.8,"y":1.4},{"p":"User18","s":"g","x":15.8,"y":2.2},{"p":"User18","s":"g","x":20.4,"y":3.3},{"p":"User18","s":"g","x":25.1,"y":4.1},{"p":"User18","s":"g","x":27.7,"y":5.5},{"p":"User18","s":"g","x":35.0,"y":6.3},{"p":"User18","s":"g","x":39.4,"y":7.7},{"p":"User18","s":"g","x":41.6,"y":8.8},{"p":"User18","s":"g","x":45.3,"y":9.6},{"p":"User18","s":"g","x":47.0,"y":10.4},{"p":"User18","s":"g","x":49.7,"y":11.5},
{"p":"User16","s":"b","x":2.0,"y":0.5},{"p":"User16","s":"b","x":2.6,"y":1.2},{"p":"User16","s":"b","x":3.3,"y":2.2},{"p":"User16","s":"b","x":4.0,"y":2.8},{"p":"User16","s":"b","x":4.6,"y":3.3},{"p":"User16","s":"b","x":6.2,"y":3.6},{"p":"User16","s":"b","x":6.7,"y":4.1},{"p":"User16","s":"b","x":7.9,"y":5.5},{"p":"User16","s":"b","x":8.8,"y":7.7},{"p":"User16","s":"b","x":10.2,"y":7.2},{"p":"User16","s":"b","x":10.6,"y":6.2},{"p":"User16","s":"b","x":11.0,"y":5},{"p":"User16","s":"b","x":11.3,"y":4.1},{"p":"User16","s":"b","x":14.0,"y":3.5},{"p":"User16","s":"b","x":14.4,"y":4.5},{"p":"User16","s":"b","x":15.0,"y":5.5},{"p":"User16","s":"b","x":15.4,"y":6.5},{"p":"User16","s":"b","x":16.0,"y":5.5},{"p":"User16","s":"b","x":16.6,"y":5.2},{"p":"User16","s":"b","x":17.2,"y":6},{"p":"User16","s":"b","x":17.8,"y":6.8},{"p":"User16","s":"b","x":18.6,"y":8.2},{"p":"User16","s":"b","x":19.3,"y":9.6},{"p":"User16","s":"b","x":21.4,"y":10.4},{"p":"User16","s":"b","x":21.7,"y":11.6},{"p":"User16","s":"b","x":26.8,"y":10.8},{"p":"User16","s":"b","x":27.3,"y":11.5},{"p":"User16","s":"b","x":27.8,"y":12.5},{"p":"User16","s":"b","x":28.4,"y":13.7},{"p":"User16","s":"b","x":30.8,"y":15.5},{"p":"User16","s":"b","x":31.3,"y":16.8},{"p":"User16","s":"b","x":32.4,"y":17.8},{"p":"User16","s":"b","x":36.1,"y":18.6},{"p":"User16","s":"b","x":36.8,"y":19.8},{"p":"User16","s":"b","x":37.4,"y":21},{"p":"User16","s":"b","x":37.8,"y":21.9},{"p":"User16","s":"b","x":44.5,"y":23.3},{"p":"User16","s":"b","x":45.8,"y":23.8},{"p":"User16","s":"b","x":50.7,"y":24.5},{"p":"User16","s":"b","x":50.9,"y":26.5},{"p":"User16","s":"b","x":51.2,"y":28},{"p":"User16","s":"b","x":51.5,"y":29},{"p":"User16","s":"b","x":52.5,"y":29.6},{"p":"User16","s":"b","x":54.0,"y":30.7},
{"p":"User16","s":"o","x":9.9,"y":1.4},{"p":"User16","s":"o","x":10.3,"y":2.2},{"p":"User16","s":"o","x":14.5,"y":3.3},{"p":"User16","s":"o","x":14.9,"y":2.3},{"p":"User16","s":"o","x":17.3,"y":1.5},{"p":"User16","s":"o","x":17.6,"y":2.8},{"p":"User16","s":"o","x":17.9,"y":4.1},{"p":"User16","s":"o","x":18.1,"y":5.2},{"p":"User16","s":"o","x":24.2,"y":5.8},{"p":"User16","s":"o","x":24.3,"y":7},{"p":"User16","s":"o","x":24.4,"y":8.2},{"p":"User16","s":"o","x":33.3,"y":9},{"p":"User16","s":"o","x":33.5,"y":10.6},{"p":"User16","s":"o","x":34.6,"y":11.5},{"p":"User16","s":"o","x":34.8,"y":13},{"p":"User16","s":"o","x":40.6,"y":14.8},{"p":"User16","s":"o","x":40.8,"y":16.5},{"p":"User16","s":"o","x":49.1,"y":17.5},{"p":"User16","s":"o","x":49.3,"y":19},{"p":"User16","s":"o","x":51.3,"y":20.5},{"p":"User16","s":"o","x":51.6,"y":22},{"p":"User16","s":"o","x":51.5,"y":23.5},
{"p":"User16","s":"g","x":9.4,"y":0.5},{"p":"User16","s":"g","x":12.3,"y":1.4},{"p":"User16","s":"g","x":14.1,"y":2.7},{"p":"User16","s":"g","x":24.1,"y":3.3},{"p":"User16","s":"g","x":33.3,"y":4.1},{"p":"User16","s":"g","x":34.7,"y":5.5},{"p":"User16","s":"g","x":40.7,"y":6.3},{"p":"User16","s":"g","x":49.0,"y":7.7},
{"p":"User4","s":"b","x":1.5,"y":0.8},{"p":"User4","s":"b","x":1.8,"y":2},{"p":"User4","s":"b","x":2.1,"y":3.3},{"p":"User4","s":"b","x":2.4,"y":3.6},{"p":"User4","s":"b","x":2.7,"y":3.3},{"p":"User4","s":"b","x":3.0,"y":2.2},{"p":"User4","s":"b","x":3.3,"y":1},{"p":"User4","s":"b","x":7.6,"y":1.4},{"p":"User4","s":"b","x":9.3,"y":2.7},{"p":"User4","s":"b","x":10.6,"y":4.3},{"p":"User4","s":"b","x":11.0,"y":4.9},{"p":"User4","s":"b","x":11.6,"y":5.2},{"p":"User4","s":"b","x":12.2,"y":5.5},{"p":"User4","s":"b","x":13.0,"y":6.2},{"p":"User4","s":"b","x":13.6,"y":7},{"p":"User4","s":"b","x":14.3,"y":7.7},{"p":"User4","s":"b","x":15.2,"y":8.8},{"p":"User4","s":"b","x":16.0,"y":9.6},{"p":"User4","s":"b","x":19.1,"y":11.8},{"p":"User4","s":"b","x":19.7,"y":12.6},{"p":"User4","s":"b","x":22.8,"y":14.2},{"p":"User4","s":"b","x":28.3,"y":16},{"p":"User4","s":"b","x":29.0,"y":16.6},{"p":"User4","s":"b","x":31.4,"y":18},{"p":"User4","s":"b","x":31.9,"y":19.2},{"p":"User4","s":"b","x":36.0,"y":21.2},{"p":"User4","s":"b","x":36.5,"y":22.3},{"p":"User4","s":"b","x":43.0,"y":24.7},{"p":"User4","s":"b","x":46.4,"y":26},{"p":"User4","s":"b","x":48.1,"y":26.8},
{"p":"User4","s":"o","x":9.9,"y":2.2},{"p":"User4","s":"o","x":10.3,"y":3.2},{"p":"User4","s":"o","x":11.0,"y":3.8},{"p":"User4","s":"o","x":11.4,"y":4.6},{"p":"User4","s":"o","x":12.1,"y":5.5},{"p":"User4","s":"o","x":12.6,"y":6.3},{"p":"User4","s":"o","x":13.2,"y":7.2},{"p":"User4","s":"o","x":13.7,"y":7.9},{"p":"User4","s":"o","x":14.4,"y":8.5},{"p":"User4","s":"o","x":15.0,"y":9.3},{"p":"User4","s":"o","x":16.5,"y":10.5},{"p":"User4","s":"o","x":17.0,"y":11.3},{"p":"User4","s":"o","x":19.2,"y":11.8},{"p":"User4","s":"o","x":19.6,"y":12.8},{"p":"User4","s":"o","x":20.2,"y":14.2},{"p":"User4","s":"o","x":22.6,"y":15},{"p":"User4","s":"o","x":23.0,"y":16},{"p":"User4","s":"o","x":29.7,"y":18},{"p":"User4","s":"o","x":30.1,"y":19},{"p":"User4","s":"o","x":32.2,"y":19.8},{"p":"User4","s":"o","x":32.6,"y":21},{"p":"User4","s":"o","x":36.3,"y":22.5},{"p":"User4","s":"o","x":36.7,"y":23.6},{"p":"User4","s":"o","x":37.0,"y":24.5},{"p":"User4","s":"o","x":43.9,"y":25.2},{"p":"User4","s":"o","x":46.0,"y":26},{"p":"User4","s":"o","x":47.6,"y":27.4},
{"p":"User4","s":"g","x":10.0,"y":0.5},{"p":"User4","s":"g","x":12.8,"y":1.4},{"p":"User4","s":"g","x":16.0,"y":2.2},{"p":"User4","s":"g","x":28.8,"y":3.3},{"p":"User4","s":"g","x":35.8,"y":4.1},{"p":"User4","s":"g","x":43.2,"y":5.5},
{"p":"User19","s":"b","x":3.0,"y":0.8},{"p":"User19","s":"b","x":3.5,"y":0.5},{"p":"User19","s":"b","x":5.2,"y":1.4},{"p":"User19","s":"b","x":6.5,"y":2.2},{"p":"User19","s":"b","x":7.3,"y":2.7},{"p":"User19","s":"b","x":8.8,"y":4.6},{"p":"User19","s":"b","x":9.2,"y":5.2},{"p":"User19","s":"b","x":9.7,"y":4.2},{"p":"User19","s":"b","x":10.0,"y":3.5},{"p":"User19","s":"b","x":14.5,"y":6.5},{"p":"User19","s":"b","x":14.9,"y":7.3},{"p":"User19","s":"b","x":15.3,"y":8.2},{"p":"User19","s":"b","x":19.0,"y":9.5},{"p":"User19","s":"b","x":21.1,"y":10.3},{"p":"User19","s":"b","x":23.2,"y":11.5},{"p":"User19","s":"b","x":23.8,"y":12.5},{"p":"User19","s":"b","x":24.5,"y":14.2},{"p":"User19","s":"b","x":25.0,"y":15.2},{"p":"User19","s":"b","x":25.8,"y":15.8},{"p":"User19","s":"b","x":26.6,"y":16.3},{"p":"User19","s":"b","x":27.5,"y":17},{"p":"User19","s":"b","x":28.6,"y":17.8},{"p":"User19","s":"b","x":30.4,"y":19},{"p":"User19","s":"b","x":32.8,"y":20.9},{"p":"User19","s":"b","x":34.5,"y":22},{"p":"User19","s":"b","x":35.6,"y":22.6},{"p":"User19","s":"b","x":36.9,"y":23.6},{"p":"User19","s":"b","x":37.8,"y":24.8},{"p":"User19","s":"b","x":42.0,"y":28.4},{"p":"User19","s":"b","x":42.4,"y":29.1},{"p":"User19","s":"b","x":43.0,"y":29.5},{"p":"User19","s":"b","x":43.6,"y":30.3},{"p":"User19","s":"b","x":44.5,"y":31.3},{"p":"User19","s":"b","x":45.2,"y":32.2},{"p":"User19","s":"b","x":46.2,"y":34},{"p":"User19","s":"b","x":47.2,"y":35.2},{"p":"User19","s":"b","x":48.0,"y":35.9},{"p":"User19","s":"b","x":48.6,"y":36.7},{"p":"User19","s":"b","x":49.6,"y":37.5},{"p":"User19","s":"b","x":50.3,"y":38.6},{"p":"User19","s":"b","x":51.1,"y":39.9},{"p":"User19","s":"b","x":53.1,"y":42.1},{"p":"User19","s":"b","x":55.0,"y":43.5},
{"p":"User19","s":"o","x":6.8,"y":1.8},{"p":"User19","s":"o","x":7.2,"y":2.7},{"p":"User19","s":"o","x":10.2,"y":1.5},{"p":"User19","s":"o","x":10.5,"y":2.7},{"p":"User19","s":"o","x":13.0,"y":4.5},{"p":"User19","s":"o","x":13.5,"y":5.4},{"p":"User19","s":"o","x":14.0,"y":6.3},{"p":"User19","s":"o","x":17.6,"y":6.8},{"p":"User19","s":"o","x":19.2,"y":8.2},{"p":"User19","s":"o","x":19.7,"y":9.0},{"p":"User19","s":"o","x":22.8,"y":10},{"p":"User19","s":"o","x":23.5,"y":10.9},{"p":"User19","s":"o","x":24.2,"y":12.2},{"p":"User19","s":"o","x":24.8,"y":13.3},{"p":"User19","s":"o","x":25.5,"y":14},{"p":"User19","s":"o","x":26.4,"y":15},{"p":"User19","s":"o","x":27.3,"y":15.5},{"p":"User19","s":"o","x":28.3,"y":16.8},{"p":"User19","s":"o","x":29.4,"y":17.7},{"p":"User19","s":"o","x":32.2,"y":19},{"p":"User19","s":"o","x":32.7,"y":20},{"p":"User19","s":"o","x":34.2,"y":20.9},{"p":"User19","s":"o","x":35.8,"y":22.5},{"p":"User19","s":"o","x":36.5,"y":23.8},{"p":"User19","s":"o","x":37.2,"y":25},{"p":"User19","s":"o","x":37.9,"y":26},{"p":"User19","s":"o","x":38.6,"y":27},{"p":"User19","s":"o","x":39.3,"y":28.2},{"p":"User19","s":"o","x":40.0,"y":29.2},{"p":"User19","s":"o","x":40.6,"y":30},{"p":"User19","s":"o","x":42.8,"y":32},{"p":"User19","s":"o","x":43.3,"y":33.5},{"p":"User19","s":"o","x":43.8,"y":35},{"p":"User19","s":"o","x":44.3,"y":36.5},{"p":"User19","s":"o","x":44.8,"y":37.5},{"p":"User19","s":"o","x":45.3,"y":38.5},{"p":"User19","s":"o","x":45.8,"y":39.8},{"p":"User19","s":"o","x":46.3,"y":41},{"p":"User19","s":"o","x":46.8,"y":42.3},{"p":"User19","s":"o","x":47.3,"y":43.5},{"p":"User19","s":"o","x":47.9,"y":45},{"p":"User19","s":"o","x":48.5,"y":46.5},{"p":"User19","s":"o","x":49.2,"y":48.5},{"p":"User19","s":"o","x":49.8,"y":50},{"p":"User19","s":"o","x":50.5,"y":51},{"p":"User19","s":"o","x":51.4,"y":52.4},{"p":"User19","s":"o","x":52.1,"y":53.5},{"p":"User19","s":"o","x":53.1,"y":55.2},{"p":"User19","s":"o","x":55.2,"y":56.3},
{"p":"User19","s":"g","x":6.6,"y":0.8},{"p":"User19","s":"g","x":10.9,"y":1.9},{"p":"User19","s":"g","x":13.0,"y":3.3},{"p":"User19","s":"g","x":15.4,"y":4.1},{"p":"User19","s":"g","x":17.6,"y":5.2},{"p":"User19","s":"g","x":20.0,"y":6.5},{"p":"User19","s":"g","x":21.8,"y":7.3},{"p":"User19","s":"g","x":23.7,"y":8.2},{"p":"User19","s":"g","x":25.0,"y":9},{"p":"User19","s":"g","x":32.1,"y":10.1},{"p":"User19","s":"g","x":36.1,"y":11.1},
{"p":"User17","s":"b","x":2.8,"y":0.5},{"p":"User17","s":"b","x":3.8,"y":1},{"p":"User17","s":"b","x":5.0,"y":1.8},{"p":"User17","s":"b","x":6.6,"y":3.2},{"p":"User17","s":"b","x":8.0,"y":4.5},{"p":"User17","s":"b","x":10.0,"y":6.3},{"p":"User17","s":"b","x":12.0,"y":8.5},{"p":"User17","s":"b","x":13.5,"y":9.8},{"p":"User17","s":"b","x":15.0,"y":10.8},{"p":"User17","s":"b","x":16.9,"y":12.2},{"p":"User17","s":"b","x":17.7,"y":13.4},{"p":"User17","s":"b","x":18.3,"y":14.9},{"p":"User17","s":"b","x":18.7,"y":16.2},{"p":"User17","s":"b","x":19.0,"y":17.5},{"p":"User17","s":"b","x":20.4,"y":19.8},{"p":"User17","s":"b","x":22.0,"y":21.8},{"p":"User17","s":"b","x":23.8,"y":23.1},{"p":"User17","s":"b","x":25.5,"y":24.4},{"p":"User17","s":"b","x":27.2,"y":25.8},{"p":"User17","s":"b","x":29.0,"y":27.2},{"p":"User17","s":"b","x":30.7,"y":28.5},{"p":"User17","s":"b","x":32.5,"y":31},{"p":"User17","s":"b","x":33.5,"y":33},{"p":"User17","s":"b","x":34.1,"y":33.8},{"p":"User17","s":"b","x":35.0,"y":35.2},{"p":"User17","s":"b","x":36.5,"y":36.8},{"p":"User17","s":"b","x":37.5,"y":38},{"p":"User17","s":"b","x":39.0,"y":39.4},{"p":"User17","s":"b","x":41.0,"y":40.8},{"p":"User17","s":"b","x":42.6,"y":42.5},{"p":"User17","s":"b","x":44.4,"y":44.3},{"p":"User17","s":"b","x":46.0,"y":45.8},{"p":"User17","s":"b","x":47.9,"y":47.6},{"p":"User17","s":"b","x":49.5,"y":49.5},{"p":"User17","s":"b","x":50.5,"y":50.8},{"p":"User17","s":"b","x":51.3,"y":52},{"p":"User17","s":"b","x":52.2,"y":53},{"p":"User17","s":"b","x":53.4,"y":54.3},
{"p":"User17","s":"o","x":3.5,"y":0.8},{"p":"User17","s":"o","x":4.5,"y":1.5},{"p":"User17","s":"o","x":5.8,"y":2.3},{"p":"User17","s":"o","x":7.0,"y":3.3},{"p":"User17","s":"o","x":8.5,"y":5},{"p":"User17","s":"o","x":9.3,"y":5.8},{"p":"User17","s":"o","x":10.5,"y":7},{"p":"User17","s":"o","x":11.5,"y":8},{"p":"User17","s":"o","x":12.5,"y":9.5},{"p":"User17","s":"o","x":13.8,"y":10.5},{"p":"User17","s":"o","x":14.5,"y":11},{"p":"User17","s":"o","x":16.0,"y":12},{"p":"User17","s":"o","x":19.3,"y":13.6},{"p":"User17","s":"o","x":19.5,"y":15},{"p":"User17","s":"o","x":19.7,"y":16.4},{"p":"User17","s":"o","x":19.9,"y":17.8},{"p":"User17","s":"o","x":20.2,"y":19},{"p":"User17","s":"o","x":21.0,"y":20.5},{"p":"User17","s":"o","x":21.8,"y":21},{"p":"User17","s":"o","x":23.0,"y":22.5},{"p":"User17","s":"o","x":24.5,"y":24},{"p":"User17","s":"o","x":26.0,"y":24.8},{"p":"User17","s":"o","x":28.0,"y":26.3},{"p":"User17","s":"o","x":29.5,"y":27.5},{"p":"User17","s":"o","x":31.5,"y":29},{"p":"User17","s":"o","x":33.0,"y":31.5},{"p":"User17","s":"o","x":35.5,"y":35.5},{"p":"User17","s":"o","x":36.5,"y":37},{"p":"User17","s":"o","x":38.0,"y":38.5},{"p":"User17","s":"o","x":38.8,"y":39},{"p":"User17","s":"o","x":40.0,"y":40},{"p":"User17","s":"o","x":42.0,"y":41.5},{"p":"User17","s":"o","x":43.5,"y":43},{"p":"User17","s":"o","x":45.0,"y":44.8},{"p":"User17","s":"o","x":46.5,"y":46},{"p":"User17","s":"o","x":48.5,"y":48},{"p":"User17","s":"o","x":49.5,"y":49},{"p":"User17","s":"o","x":50.3,"y":50.5},{"p":"User17","s":"o","x":51.0,"y":51.5},{"p":"User17","s":"o","x":52.0,"y":52.5},{"p":"User17","s":"o","x":52.8,"y":53.5},{"p":"User17","s":"o","x":54.0,"y":54.3},
{"p":"User17","s":"g","x":4.2,"y":0.8},{"p":"User17","s":"g","x":6.3,"y":2.2},{"p":"User17","s":"g","x":7.6,"y":3.5},{"p":"User17","s":"g","x":9.2,"y":4.9},{"p":"User17","s":"g","x":12.6,"y":6.5},{"p":"User17","s":"g","x":15.7,"y":7.6},{"p":"User17","s":"g","x":17.6,"y":8.2},{"p":"User17","s":"g","x":20.5,"y":9.2},{"p":"User17","s":"g","x":22.8,"y":10.3},{"p":"User17","s":"g","x":28.1,"y":11.7},{"p":"User17","s":"g","x":29.4,"y":13.3},{"p":"User17","s":"g","x":37.9,"y":14.4},{"p":"User17","s":"g","x":39.6,"y":15.2},{"p":"User17","s":"g","x":41.3,"y":16.3}
]},
"spacing": 14.5,
"vconcat": [
{"columns": 2, "bounds": "flush", "spacing": {"row": 24.5, "column": 18},
"concat": [
{"transform":[{"filter":"datum.p=='User2'"}],"width":295,"height":122.5,"layer":[{"transform":[{"filter":"datum.s=='b'"}],"mark":{"type":"point","shape":"M-1,0H1M0,-1V1","filled":false,"size":40,"strokeWidth":1.4,"color":"#1f77b4","opacity":1,"clip":true},"encoding":{"x":{"field":"x","type":"quantitative","scale":{"domain":[-2,59],"nice":false,"zero":false},"axis":null},"y":{"field":"y","type":"quantitative","scale":{"domain":[0,100],"nice":false},"axis":null}}},{"transform":[{"filter":"datum.s=='o'"}],"mark":{"type":"point","shape":"M-1,-1L1,1M-1,1L1,-1","filled":false,"size":30,"strokeWidth":1.4,"color":"#ff7f0e","opacity":1,"clip":true},"encoding":{"x":{"field":"x","type":"quantitative","axis":null},"y":{"field":"y","type":"quantitative","axis":null}}},{"transform":[{"filter":"datum.s=='g'"}],"mark":{"type":"point","shape":"circle","filled":true,"size":32,"color":"#2ca02c","opacity":1,"clip":true},"encoding":{"x":{"field":"x","type":"quantitative","axis":null},"y":{"field":"y","type":"quantitative","axis":null}}},{"transform":[{"aggregate":[{"op":"count","as":"n"}],"groupby":["p"]}],"mark":{"type":"text","align":"left","baseline":"top","dx":5,"dy":5,"fontSize":18,"color":"black"},"encoding":{"x":{"datum":-2},"y":{"datum":100},"text":{"field":"p"}}}]},
{"transform":[{"filter":"datum.p=='User3'"}],"width":295,"height":122.5,"layer":[{"transform":[{"filter":"datum.s=='b'"}],"mark":{"type":"point","shape":"M-1,0H1M0,-1V1","filled":false,"size":40,"strokeWidth":1.4,"color":"#1f77b4","opacity":1,"clip":true},"encoding":{"x":{"field":"x","type":"quantitative","scale":{"domain":[-2,59],"nice":false,"zero":false},"axis":null},"y":{"field":"y","type":"quantitative","scale":{"domain":[0,100],"nice":false},"axis":null}}},{"transform":[{"filter":"datum.s=='o'"}],"mark":{"type":"point","shape":"M-1,-1L1,1M-1,1L1,-1","filled":false,"size":30,"strokeWidth":1.4,"color":"#ff7f0e","opacity":1,"clip":true},"encoding":{"x":{"field":"x","type":"quantitative","axis":null},"y":{"field":"y","type":"quantitative","axis":null}}},{"transform":[{"filter":"datum.s=='g'"}],"mark":{"type":"point","shape":"circle","filled":true,"size":32,"color":"#2ca02c","opacity":1,"clip":true},"encoding":{"x":{"field":"x","type":"quantitative","axis":null},"y":{"field":"y","type":"quantitative","axis":null}}},{"transform":[{"aggregate":[{"op":"count","as":"n"}],"groupby":["p"]}],"mark":{"type":"text","align":"left","baseline":"top","dx":5,"dy":5,"fontSize":18,"color":"black"},"encoding":{"x":{"datum":-2},"y":{"datum":100},"text":{"field":"p"}}}]},
{"transform":[{"filter":"datum.p=='User14'"}],"width":295,"height":122.5,"layer":[{"transform":[{"filter":"datum.s=='b'"}],"mark":{"type":"point","shape":"M-1,0H1M0,-1V1","filled":false,"size":40,"strokeWidth":1.4,"color":"#1f77b4","opacity":1,"clip":true},"encoding":{"x":{"field":"x","type":"quantitative","scale":{"domain":[-2,59],"nice":false,"zero":false},"axis":null},"y":{"field":"y","type":"quantitative","scale":{"domain":[0,100],"nice":false},"axis":null}}},{"transform":[{"filter":"datum.s=='o'"}],"mark":{"type":"point","shape":"M-1,-1L1,1M-1,1L1,-1","filled":false,"size":30,"strokeWidth":1.4,"color":"#ff7f0e","opacity":1,"clip":true},"encoding":{"x":{"field":"x","type":"quantitative","axis":null},"y":{"field":"y","type":"quantitative","axis":null}}},{"transform":[{"filter":"datum.s=='g'"}],"mark":{"type":"point","shape":"circle","filled":true,"size":32,"color":"#2ca02c","opacity":1,"clip":true},"encoding":{"x":{"field":"x","type":"quantitative","axis":null},"y":{"field":"y","type":"quantitative","axis":null}}},{"transform":[{"aggregate":[{"op":"count","as":"n"}],"groupby":["p"]}],"mark":{"type":"text","align":"left","baseline":"top","dx":5,"dy":5,"fontSize":18,"color":"black"},"encoding":{"x":{"datum":-2},"y":{"datum":100},"text":{"field":"p"}}}]},
{"transform":[{"filter":"datum.p=='User7'"}],"width":295,"height":122.5,"layer":[{"transform":[{"filter":"datum.s=='b'"}],"mark":{"type":"point","shape":"M-1,0H1M0,-1V1","filled":false,"size":40,"strokeWidth":1.4,"color":"#1f77b4","opacity":1,"clip":true},"encoding":{"x":{"field":"x","type":"quantitative","scale":{"domain":[-2,59],"nice":false,"zero":false},"axis":null},"y":{"field":"y","type":"quantitative","scale":{"domain":[0,100],"nice":false},"axis":null}}},{"transform":[{"filter":"datum.s=='o'"}],"mark":{"type":"point","shape":"M-1,-1L1,1M-1,1L1,-1","filled":false,"size":30,"strokeWidth":1.4,"color":"#ff7f0e","opacity":1,"clip":true},"encoding":{"x":{"field":"x","type":"quantitative","axis":null},"y":{"field":"y","type":"quantitative","axis":null}}},{"transform":[{"filter":"datum.s=='g'"}],"mark":{"type":"point","shape":"circle","filled":true,"size":32,"color":"#2ca02c","opacity":1,"clip":true},"encoding":{"x":{"field":"x","type":"quantitative","axis":null},"y":{"field":"y","type":"quantitative","axis":null}}},{"transform":[{"aggregate":[{"op":"count","as":"n"}],"groupby":["p"]}],"mark":{"type":"text","align":"left","baseline":"top","dx":5,"dy":5,"fontSize":18,"color":"black"},"encoding":{"x":{"datum":-2},"y":{"datum":100},"text":{"field":"p"}}}]},
{"transform":[{"filter":"datum.p=='User20'"}],"width":295,"height":122.5,"layer":[{"transform":[{"filter":"datum.s=='b'"}],"mark":{"type":"point","shape":"M-1,0H1M0,-1V1","filled":false,"size":40,"strokeWidth":1.4,"color":"#1f77b4","opacity":1,"clip":true},"encoding":{"x":{"field":"x","type":"quantitative","scale":{"domain":[-2,59],"nice":false,"zero":false},"axis":null},"y":{"field":"y","type":"quantitative","scale":{"domain":[0,100],"nice":false},"axis":null}}},{"transform":[{"filter":"datum.s=='o'"}],"mark":{"type":"point","shape":"M-1,-1L1,1M-1,1L1,-1","filled":false,"size":30,"strokeWidth":1.4,"color":"#ff7f0e","opacity":1,"clip":true},"encoding":{"x":{"field":"x","type":"quantitative","axis":null},"y":{"field":"y","type":"quantitative","axis":null}}},{"transform":[{"filter":"datum.s=='g'"}],"mark":{"type":"point","shape":"circle","filled":true,"size":32,"color":"#2ca02c","opacity":1,"clip":true},"encoding":{"x":{"field":"x","type":"quantitative","axis":null},"y":{"field":"y","type":"quantitative","axis":null}}},{"transform":[{"aggregate":[{"op":"count","as":"n"}],"groupby":["p"]}],"mark":{"type":"text","align":"left","baseline":"top","dx":5,"dy":5,"fontSize":18,"color":"black"},"encoding":{"x":{"datum":-2},"y":{"datum":100},"text":{"field":"p"}}}]},
{"transform":[{"filter":"datum.p=='User0'"}],"width":295,"height":122.5,"layer":[{"transform":[{"filter":"datum.s=='b'"}],"mark":{"type":"point","shape":"M-1,0H1M0,-1V1","filled":false,"size":40,"strokeWidth":1.4,"color":"#1f77b4","opacity":1,"clip":true},"encoding":{"x":{"field":"x","type":"quantitative","scale":{"domain":[-2,59],"nice":false,"zero":false},"axis":null},"y":{"field":"y","type":"quantitative","scale":{"domain":[0,100],"nice":false},"axis":null}}},{"transform":[{"filter":"datum.s=='o'"}],"mark":{"type":"point","shape":"M-1,-1L1,1M-1,1L1,-1","filled":false,"size":30,"strokeWidth":1.4,"color":"#ff7f0e","opacity":1,"clip":true},"encoding":{"x":{"field":"x","type":"quantitative","axis":null},"y":{"field":"y","type":"quantitative","axis":null}}},{"transform":[{"filter":"datum.s=='g'"}],"mark":{"type":"point","shape":"circle","filled":true,"size":32,"color":"#2ca02c","opacity":1,"clip":true},"encoding":{"x":{"field":"x","type":"quantitative","axis":null},"y":{"field":"y","type":"quantitative","axis":null}}},{"transform":[{"aggregate":[{"op":"count","as":"n"}],"groupby":["p"]}],"mark":{"type":"text","align":"left","baseline":"top","dx":5,"dy":5,"fontSize":18,"color":"black"},"encoding":{"x":{"datum":-2},"y":{"datum":100},"text":{"field":"p"}}}]},
{"transform":[{"filter":"datum.p=='User15'"}],"width":295,"height":122.5,"layer":[{"transform":[{"filter":"datum.s=='b'"}],"mark":{"type":"point","shape":"M-1,0H1M0,-1V1","filled":false,"size":40,"strokeWidth":1.4,"color":"#1f77b4","opacity":1,"clip":true},"encoding":{"x":{"field":"x","type":"quantitative","scale":{"domain":[-2,59],"nice":false,"zero":false},"axis":null},"y":{"field":"y","type":"quantitative","scale":{"domain":[0,100],"nice":false},"axis":null}}},{"transform":[{"filter":"datum.s=='o'"}],"mark":{"type":"point","shape":"M-1,-1L1,1M-1,1L1,-1","filled":false,"size":30,"strokeWidth":1.4,"color":"#ff7f0e","opacity":1,"clip":true},"encoding":{"x":{"field":"x","type":"quantitative","axis":null},"y":{"field":"y","type":"quantitative","axis":null}}},{"transform":[{"filter":"datum.s=='g'"}],"mark":{"type":"point","shape":"circle","filled":true,"size":32,"color":"#2ca02c","opacity":1,"clip":true},"encoding":{"x":{"field":"x","type":"quantitative","axis":null},"y":{"field":"y","type":"quantitative","axis":null}}},{"transform":[{"aggregate":[{"op":"count","as":"n"}],"groupby":["p"]}],"mark":{"type":"text","align":"left","baseline":"top","dx":5,"dy":5,"fontSize":18,"color":"black"},"encoding":{"x":{"datum":-2},"y":{"datum":100},"text":{"field":"p"}}}]},
{"transform":[{"filter":"datum.p=='User12'"}],"width":295,"height":122.5,"layer":[{"transform":[{"filter":"datum.s=='b'"}],"mark":{"type":"point","shape":"M-1,0H1M0,-1V1","filled":false,"size":40,"strokeWidth":1.4,"color":"#1f77b4","opacity":1,"clip":true},"encoding":{"x":{"field":"x","type":"quantitative","scale":{"domain":[-2,59],"nice":false,"zero":false},"axis":null},"y":{"field":"y","type":"quantitative","scale":{"domain":[0,100],"nice":false},"axis":null}}},{"transform":[{"filter":"datum.s=='o'"}],"mark":{"type":"point","shape":"M-1,-1L1,1M-1,1L1,-1","filled":false,"size":30,"strokeWidth":1.4,"color":"#ff7f0e","opacity":1,"clip":true},"encoding":{"x":{"field":"x","type":"quantitative","axis":null},"y":{"field":"y","type":"quantitative","axis":null}}},{"transform":[{"filter":"datum.s=='g'"}],"mark":{"type":"point","shape":"circle","filled":true,"size":32,"color":"#2ca02c","opacity":1,"clip":true},"encoding":{"x":{"field":"x","type":"quantitative","axis":null},"y":{"field":"y","type":"quantitative","axis":null}}},{"transform":[{"aggregate":[{"op":"count","as":"n"}],"groupby":["p"]}],"mark":{"type":"text","align":"left","baseline":"top","dx":5,"dy":5,"fontSize":18,"color":"black"},"encoding":{"x":{"datum":-2},"y":{"datum":100},"text":{"field":"p"}}}]},
{"transform":[{"filter":"datum.p=='User13'"}],"width":295,"height":122.5,"layer":[{"transform":[{"filter":"datum.s=='b'"}],"mark":{"type":"point","shape":"M-1,0H1M0,-1V1","filled":false,"size":40,"strokeWidth":1.4,"color":"#1f77b4","opacity":1,"clip":true},"encoding":{"x":{"field":"x","type":"quantitative","scale":{"domain":[-2,59],"nice":false,"zero":false},"axis":null},"y":{"field":"y","type":"quantitative","scale":{"domain":[0,100],"nice":false},"axis":null}}},{"transform":[{"filter":"datum.s=='o'"}],"mark":{"type":"point","shape":"M-1,-1L1,1M-1,1L1,-1","filled":false,"size":30,"strokeWidth":1.4,"color":"#ff7f0e","opacity":1,"clip":true},"encoding":{"x":{"field":"x","type":"quantitative","axis":null},"y":{"field":"y","type":"quantitative","axis":null}}},{"transform":[{"filter":"datum.s=='g'"}],"mark":{"type":"point","shape":"circle","filled":true,"size":32,"color":"#2ca02c","opacity":1,"clip":true},"encoding":{"x":{"field":"x","type":"quantitative","axis":null},"y":{"field":"y","type":"quantitative","axis":null}}},{"transform":[{"aggregate":[{"op":"count","as":"n"}],"groupby":["p"]}],"mark":{"type":"text","align":"left","baseline":"top","dx":5,"dy":5,"fontSize":18,"color":"black"},"encoding":{"x":{"datum":-2},"y":{"datum":100},"text":{"field":"p"}}}]},
{"transform":[{"filter":"datum.p=='User1'"}],"width":295,"height":122.5,"layer":[{"transform":[{"filter":"datum.s=='b'"}],"mark":{"type":"point","shape":"M-1,0H1M0,-1V1","filled":false,"size":40,"strokeWidth":1.4,"color":"#1f77b4","opacity":1,"clip":true},"encoding":{"x":{"field":"x","type":"quantitative","scale":{"domain":[-2,59],"nice":false,"zero":false},"axis":null},"y":{"field":"y","type":"quantitative","scale":{"domain":[0,100],"nice":false},"axis":null}}},{"transform":[{"filter":"datum.s=='o'"}],"mark":{"type":"point","shape":"M-1,-1L1,1M-1,1L1,-1","filled":false,"size":30,"strokeWidth":1.4,"color":"#ff7f0e","opacity":1,"clip":true},"encoding":{"x":{"field":"x","type":"quantitative","axis":null},"y":{"field":"y","type":"quantitative","axis":null}}},{"transform":[{"filter":"datum.s=='g'"}],"mark":{"type":"point","shape":"circle","filled":true,"size":32,"color":"#2ca02c","opacity":1,"clip":true},"encoding":{"x":{"field":"x","type":"quantitative","axis":null},"y":{"field":"y","type":"quantitative","axis":null}}},{"transform":[{"aggregate":[{"op":"count","as":"n"}],"groupby":["p"]}],"mark":{"type":"text","align":"left","baseline":"top","dx":5,"dy":5,"fontSize":18,"color":"black"},"encoding":{"x":{"datum":-2},"y":{"datum":100},"text":{"field":"p"}}}]},
{"transform":[{"filter":"datum.p=='User5'"}],"width":295,"height":122.5,"layer":[{"transform":[{"filter":"datum.s=='b'"}],"mark":{"type":"point","shape":"M-1,0H1M0,-1V1","filled":false,"size":40,"strokeWidth":1.4,"color":"#1f77b4","opacity":1,"clip":true},"encoding":{"x":{"field":"x","type":"quantitative","scale":{"domain":[-2,59],"nice":false,"zero":false},"axis":null},"y":{"field":"y","type":"quantitative","scale":{"domain":[0,100],"nice":false},"axis":null}}},{"transform":[{"filter":"datum.s=='o'"}],"mark":{"type":"point","shape":"M-1,-1L1,1M-1,1L1,-1","filled":false,"size":30,"strokeWidth":1.4,"color":"#ff7f0e","opacity":1,"clip":true},"encoding":{"x":{"field":"x","type":"quantitative","axis":null},"y":{"field":"y","type":"quantitative","axis":null}}},{"transform":[{"filter":"datum.s=='g'"}],"mark":{"type":"point","shape":"circle","filled":true,"size":32,"color":"#2ca02c","opacity":1,"clip":true},"encoding":{"x":{"field":"x","type":"quantitative","axis":null},"y":{"field":"y","type":"quantitative","axis":null}}},{"transform":[{"aggregate":[{"op":"count","as":"n"}],"groupby":["p"]}],"mark":{"type":"text","align":"left","baseline":"top","dx":5,"dy":5,"fontSize":18,"color":"black"},"encoding":{"x":{"datum":-2},"y":{"datum":100},"text":{"field":"p"}}}]},
{"transform":[{"filter":"datum.p=='User18'"}],"width":295,"height":122.5,"layer":[{"transform":[{"filter":"datum.s=='b'"}],"mark":{"type":"point","shape":"M-1,0H1M0,-1V1","filled":false,"size":40,"strokeWidth":1.4,"color":"#1f77b4","opacity":1,"clip":true},"encoding":{"x":{"field":"x","type":"quantitative","scale":{"domain":[-2,59],"nice":false,"zero":false},"axis":null},"y":{"field":"y","type":"quantitative","scale":{"domain":[0,100],"nice":false},"axis":null}}},{"transform":[{"filter":"datum.s=='o'"}],"mark":{"type":"point","shape":"M-1,-1L1,1M-1,1L1,-1","filled":false,"size":30,"strokeWidth":1.4,"color":"#ff7f0e","opacity":1,"clip":true},"encoding":{"x":{"field":"x","type":"quantitative","axis":null},"y":{"field":"y","type":"quantitative","axis":null}}},{"transform":[{"filter":"datum.s=='g'"}],"mark":{"type":"point","shape":"circle","filled":true,"size":32,"color":"#2ca02c","opacity":1,"clip":true},"encoding":{"x":{"field":"x","type":"quantitative","axis":null},"y":{"field":"y","type":"quantitative","axis":null}}},{"transform":[{"aggregate":[{"op":"count","as":"n"}],"groupby":["p"]}],"mark":{"type":"text","align":"left","baseline":"top","dx":5,"dy":5,"fontSize":18,"color":"black"},"encoding":{"x":{"datum":-2},"y":{"datum":100},"text":{"field":"p"}}}]},
{"transform":[{"filter":"datum.p=='User16'"}],"width":295,"height":122.5,"layer":[{"transform":[{"filter":"datum.s=='b'"}],"mark":{"type":"point","shape":"M-1,0H1M0,-1V1","filled":false,"size":40,"strokeWidth":1.4,"color":"#1f77b4","opacity":1,"clip":true},"encoding":{"x":{"field":"x","type":"quantitative","scale":{"domain":[-2,59],"nice":false,"zero":false},"axis":null},"y":{"field":"y","type":"quantitative","scale":{"domain":[0,100],"nice":false},"axis":null}}},{"transform":[{"filter":"datum.s=='o'"}],"mark":{"type":"point","shape":"M-1,-1L1,1M-1,1L1,-1","filled":false,"size":30,"strokeWidth":1.4,"color":"#ff7f0e","opacity":1,"clip":true},"encoding":{"x":{"field":"x","type":"quantitative","axis":null},"y":{"field":"y","type":"quantitative","axis":null}}},{"transform":[{"filter":"datum.s=='g'"}],"mark":{"type":"point","shape":"circle","filled":true,"size":32,"color":"#2ca02c","opacity":1,"clip":true},"encoding":{"x":{"field":"x","type":"quantitative","axis":null},"y":{"field":"y","type":"quantitative","axis":null}}},{"transform":[{"aggregate":[{"op":"count","as":"n"}],"groupby":["p"]}],"mark":{"type":"text","align":"left","baseline":"top","dx":5,"dy":5,"fontSize":18,"color":"black"},"encoding":{"x":{"datum":-2},"y":{"datum":100},"text":{"field":"p"}}}]},
{"transform":[{"filter":"datum.p=='User4'"}],"width":295,"height":122.5,"layer":[{"transform":[{"filter":"datum.s=='b'"}],"mark":{"type":"point","shape":"M-1,0H1M0,-1V1","filled":false,"size":40,"strokeWidth":1.4,"color":"#1f77b4","opacity":1,"clip":true},"encoding":{"x":{"field":"x","type":"quantitative","scale":{"domain":[-2,59],"nice":false,"zero":false},"axis":null},"y":{"field":"y","type":"quantitative","scale":{"domain":[0,100],"nice":false},"axis":null}}},{"transform":[{"filter":"datum.s=='o'"}],"mark":{"type":"point","shape":"M-1,-1L1,1M-1,1L1,-1","filled":false,"size":30,"strokeWidth":1.4,"color":"#ff7f0e","opacity":1,"clip":true},"encoding":{"x":{"field":"x","type":"quantitative","axis":null},"y":{"field":"y","type":"quantitative","axis":null}}},{"transform":[{"filter":"datum.s=='g'"}],"mark":{"type":"point","shape":"circle","filled":true,"size":32,"color":"#2ca02c","opacity":1,"clip":true},"encoding":{"x":{"field":"x","type":"quantitative","axis":null},"y":{"field":"y","type":"quantitative","axis":null}}},{"transform":[{"aggregate":[{"op":"count","as":"n"}],"groupby":["p"]}],"mark":{"type":"text","align":"left","baseline":"top","dx":5,"dy":5,"fontSize":18,"color":"black"},"encoding":{"x":{"datum":-2},"y":{"datum":100},"text":{"field":"p"}}}]}
]},
{"columns": 2, "bounds": "flush", "spacing": {"row": 24.5, "column": 18},
"concat": [
{"transform":[{"filter":"datum.p=='User19'"}],"width":295,"height":122.5,"layer":[{"transform":[{"filter":"datum.s=='b'"}],"mark":{"type":"point","shape":"M-1,0H1M0,-1V1","filled":false,"size":40,"strokeWidth":1.4,"color":"#1f77b4","opacity":1,"clip":true},"encoding":{"x":{"field":"x","type":"quantitative","scale":{"domain":[-2,59],"nice":false,"zero":false},"axis":{"values":[0,55],"labelExpr":"datum.value == 0 ? '0' : '55min'","ticks":false,"tickSize":0,"domain":false,"grid":false,"labelFontSize":18,"labelPadding":15,"labelColor":"black","title":null}},"y":{"field":"y","type":"quantitative","scale":{"domain":[0,100],"nice":false},"axis":null}}},{"transform":[{"filter":"datum.s=='o'"}],"mark":{"type":"point","shape":"M-1,-1L1,1M-1,1L1,-1","filled":false,"size":30,"strokeWidth":1.4,"color":"#ff7f0e","opacity":1,"clip":true},"encoding":{"x":{"field":"x","type":"quantitative"},"y":{"field":"y","type":"quantitative","axis":null}}},{"transform":[{"filter":"datum.s=='g'"}],"mark":{"type":"point","shape":"circle","filled":true,"size":32,"color":"#2ca02c","opacity":1,"clip":true},"encoding":{"x":{"field":"x","type":"quantitative"},"y":{"field":"y","type":"quantitative","axis":null}}},{"transform":[{"aggregate":[{"op":"count","as":"n"}],"groupby":["p"]}],"mark":{"type":"text","align":"left","baseline":"top","dx":5,"dy":5,"fontSize":18,"color":"black"},"encoding":{"x":{"datum":-2},"y":{"datum":100},"text":{"field":"p"}}},{"transform":[{"aggregate":[{"op":"count","as":"n"}],"groupby":["p"]}],"mark":{"type":"text","align":"left","baseline":"alphabetic","dx":4,"dy":-8,"fontSize":18,"color":"black"},"encoding":{"x":{"datum":-2},"y":{"datum":100},"text":{"value":"100"}}}]},
{"transform":[{"filter":"datum.p=='User17'"}],"width":295,"height":122.5,"layer":[{"transform":[{"filter":"datum.s=='b'"}],"mark":{"type":"point","shape":"M-1,0H1M0,-1V1","filled":false,"size":40,"strokeWidth":1.4,"color":"#1f77b4","opacity":1,"clip":true},"encoding":{"x":{"field":"x","type":"quantitative","scale":{"domain":[-2,59],"nice":false,"zero":false},"axis":{"values":[0,55],"labelExpr":"datum.value == 0 ? '0' : '55min'","ticks":false,"tickSize":0,"domain":false,"grid":false,"labelFontSize":18,"labelPadding":15,"labelColor":"black","title":null}},"y":{"field":"y","type":"quantitative","scale":{"domain":[0,100],"nice":false},"axis":null}}},{"transform":[{"filter":"datum.s=='o'"}],"mark":{"type":"point","shape":"M-1,-1L1,1M-1,1L1,-1","filled":false,"size":30,"strokeWidth":1.4,"color":"#ff7f0e","opacity":1,"clip":true},"encoding":{"x":{"field":"x","type":"quantitative"},"y":{"field":"y","type":"quantitative","axis":null}}},{"transform":[{"filter":"datum.s=='g'"}],"mark":{"type":"point","shape":"circle","filled":true,"size":32,"color":"#2ca02c","opacity":1,"clip":true},"encoding":{"x":{"field":"x","type":"quantitative"},"y":{"field":"y","type":"quantitative","axis":null}}},{"transform":[{"aggregate":[{"op":"count","as":"n"}],"groupby":["p"]}],"mark":{"type":"text","align":"left","baseline":"top","dx":5,"dy":5,"fontSize":18,"color":"black"},"encoding":{"x":{"datum":-2},"y":{"datum":100},"text":{"field":"p"}}},{"transform":[{"aggregate":[{"op":"count","as":"n"}],"groupby":["p"]}],"mark":{"type":"text","align":"left","baseline":"alphabetic","dx":4,"dy":-8,"fontSize":18,"color":"black"},"encoding":{"x":{"datum":-2},"y":{"datum":100},"text":{"value":"100"}}}]}
]}
]
}
